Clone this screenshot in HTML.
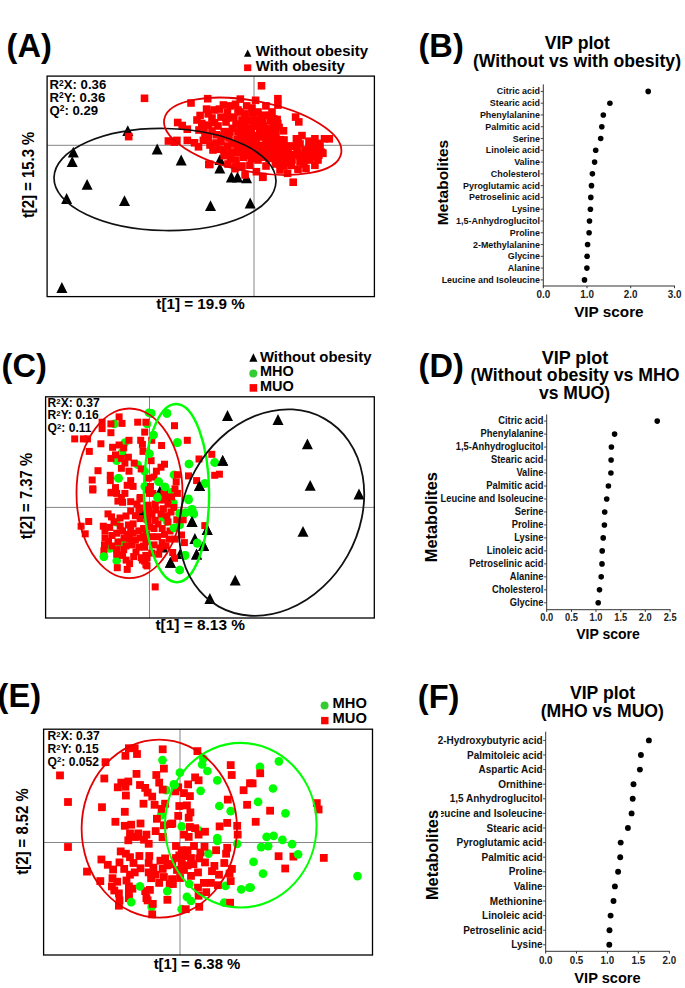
<!DOCTYPE html>
<html><head><meta charset="utf-8"><title>Figure</title>
<style>html,body{margin:0;padding:0;background:#fff}svg{display:block}text{font-family:'Liberation Sans',Arial,sans-serif;font-weight:bold}</style></head>
<body><svg width="685" height="988" viewBox="0 0 685 988">
<rect width="685" height="988" fill="#fff"/>
<text x="6.6" y="57" font-size="32.6" text-anchor="start" >(A)</text>
<text x="418.5" y="57" font-size="32.6" text-anchor="start" >(B)</text>
<text x="1.6" y="377" font-size="32.6" text-anchor="start" >(C)</text>
<text x="418.6" y="377" font-size="32.6" text-anchor="start" >(D)</text>
<text x="-2.4" y="706.5" font-size="32.6" text-anchor="start" >(E)</text>
<text x="417.8" y="708" font-size="32.6" text-anchor="start" >(F)</text>
<line x1="47.1" y1="145.3" x2="374.4" y2="145.3" stroke="#777" stroke-width="0.9"/>
<line x1="254" y1="76.1" x2="254" y2="296.6" stroke="#777" stroke-width="0.9"/>
<path d="M67.8 157.6L73.3 146.8L78.8 157.6z" fill="#000"/>
<path d="M66.7 167.1L72.2 156.3L77.7 167.1z" fill="#000"/>
<path d="M81.6 189.8L87.1 179.0L92.6 189.8z" fill="#000"/>
<path d="M61.1 203.9L66.6 193.1L72.1 203.9z" fill="#000"/>
<path d="M119.0 206.1L124.5 195.3L130.0 206.1z" fill="#000"/>
<path d="M122.3 136.0L127.8 125.2L133.3 136.0z" fill="#000"/>
<path d="M151.7 154.4L157.2 143.6L162.7 154.4z" fill="#000"/>
<path d="M175.7 165.4L181.2 154.6L186.7 165.4z" fill="#000"/>
<path d="M214.3 173.6L219.8 162.8L225.3 173.6z" fill="#000"/>
<path d="M214.5 164.9L220.0 154.1L225.5 164.9z" fill="#000"/>
<path d="M225.9 182.4L231.4 171.6L236.9 182.4z" fill="#000"/>
<path d="M232.0 182.4L237.5 171.6L243.0 182.4z" fill="#000"/>
<path d="M241.1 183.2L246.6 172.4L252.1 183.2z" fill="#000"/>
<path d="M232.3 170.4L237.8 159.6L243.3 170.4z" fill="#000"/>
<path d="M205.0 211.0L210.5 200.2L216.0 211.0z" fill="#000"/>
<path d="M244.7 208.4L250.2 197.6L255.7 208.4z" fill="#000"/>
<path d="M56.4 292.9L61.9 282.1L67.4 292.9z" fill="#000"/>
<rect x="140.7" y="94.5" width="7.6" height="7.6" fill="#f00"/>
<rect x="124.9" y="132.8" width="7.6" height="7.6" fill="#f00"/>
<rect x="164.6" y="137.2" width="7.6" height="7.6" fill="#f00"/>
<rect x="170.6" y="138.3" width="7.6" height="7.6" fill="#f00"/>
<rect x="173.9" y="118.7" width="7.6" height="7.6" fill="#f00"/>
<rect x="178.4" y="121.7" width="7.6" height="7.6" fill="#f00"/>
<rect x="183.5" y="125.4" width="7.6" height="7.6" fill="#f00"/>
<rect x="257.7" y="82.0" width="7.6" height="7.6" fill="#f00"/>
<rect x="203.9" y="94.9" width="7.6" height="7.6" fill="#f00"/>
<rect x="187.2" y="99.2" width="7.6" height="7.6" fill="#f00"/>
<rect x="236.5" y="95.3" width="7.6" height="7.6" fill="#f00"/>
<rect x="251.8" y="96.5" width="7.6" height="7.6" fill="#f00"/>
<rect x="173.1" y="136.6" width="7.6" height="7.6" fill="#f00"/>
<rect x="183.5" y="136.6" width="7.6" height="7.6" fill="#f00"/>
<rect x="190.7" y="139.0" width="7.6" height="7.6" fill="#f00"/>
<rect x="194.7" y="143.0" width="7.6" height="7.6" fill="#f00"/>
<rect x="199.6" y="136.6" width="7.6" height="7.6" fill="#f00"/>
<rect x="206.0" y="160.7" width="7.6" height="7.6" fill="#f00"/>
<rect x="196.3" y="111.7" width="7.6" height="7.6" fill="#f00"/>
<rect x="202.8" y="105.3" width="7.6" height="7.6" fill="#f00"/>
<rect x="204.4" y="110.1" width="7.6" height="7.6" fill="#f00"/>
<rect x="198.0" y="119.7" width="7.6" height="7.6" fill="#f00"/>
<rect x="204.4" y="121.3" width="7.6" height="7.6" fill="#f00"/>
<rect x="210.8" y="118.9" width="7.6" height="7.6" fill="#f00"/>
<rect x="215.6" y="105.3" width="7.6" height="7.6" fill="#f00"/>
<rect x="219.6" y="101.2" width="7.6" height="7.6" fill="#f00"/>
<rect x="223.6" y="108.5" width="7.6" height="7.6" fill="#f00"/>
<rect x="217.2" y="113.3" width="7.6" height="7.6" fill="#f00"/>
<rect x="226.9" y="102.1" width="7.6" height="7.6" fill="#f00"/>
<rect x="231.7" y="100.5" width="7.6" height="7.6" fill="#f00"/>
<rect x="230.1" y="113.3" width="7.6" height="7.6" fill="#f00"/>
<rect x="228.5" y="124.6" width="7.6" height="7.6" fill="#f00"/>
<rect x="220.4" y="127.8" width="7.6" height="7.6" fill="#f00"/>
<rect x="212.4" y="131.0" width="7.6" height="7.6" fill="#f00"/>
<rect x="204.4" y="134.2" width="7.6" height="7.6" fill="#f00"/>
<rect x="217.2" y="137.4" width="7.6" height="7.6" fill="#f00"/>
<rect x="223.6" y="142.2" width="7.6" height="7.6" fill="#f00"/>
<rect x="215.6" y="145.4" width="7.6" height="7.6" fill="#f00"/>
<rect x="220.4" y="151.9" width="7.6" height="7.6" fill="#f00"/>
<rect x="226.9" y="155.1" width="7.6" height="7.6" fill="#f00"/>
<rect x="231.7" y="163.1" width="7.6" height="7.6" fill="#f00"/>
<rect x="233.3" y="148.6" width="7.6" height="7.6" fill="#f00"/>
<rect x="233.3" y="135.8" width="7.6" height="7.6" fill="#f00"/>
<rect x="236.5" y="123.0" width="7.6" height="7.6" fill="#f00"/>
<rect x="241.3" y="110.1" width="7.6" height="7.6" fill="#f00"/>
<rect x="242.9" y="102.1" width="7.6" height="7.6" fill="#f00"/>
<rect x="246.1" y="116.5" width="7.6" height="7.6" fill="#f00"/>
<rect x="242.9" y="129.4" width="7.6" height="7.6" fill="#f00"/>
<rect x="241.3" y="142.2" width="7.6" height="7.6" fill="#f00"/>
<rect x="239.7" y="153.5" width="7.6" height="7.6" fill="#f00"/>
<rect x="241.3" y="171.1" width="7.6" height="7.6" fill="#f00"/>
<rect x="246.1" y="161.5" width="7.6" height="7.6" fill="#f00"/>
<rect x="252.6" y="167.9" width="7.6" height="7.6" fill="#f00"/>
<rect x="259.0" y="172.7" width="7.6" height="7.6" fill="#f00"/>
<rect x="274.1" y="94.9" width="7.6" height="7.6" fill="#f00"/>
<rect x="274.1" y="101.3" width="7.6" height="7.6" fill="#f00"/>
<rect x="262.1" y="102.1" width="7.6" height="7.6" fill="#f00"/>
<rect x="291.8" y="113.3" width="7.6" height="7.6" fill="#f00"/>
<rect x="295.0" y="118.1" width="7.6" height="7.6" fill="#f00"/>
<rect x="273.3" y="115.7" width="7.6" height="7.6" fill="#f00"/>
<rect x="266.9" y="116.5" width="7.6" height="7.6" fill="#f00"/>
<rect x="279.7" y="127.0" width="7.6" height="7.6" fill="#f00"/>
<rect x="298.2" y="131.8" width="7.6" height="7.6" fill="#f00"/>
<rect x="292.6" y="135.0" width="7.6" height="7.6" fill="#f00"/>
<rect x="311.1" y="135.0" width="7.6" height="7.6" fill="#f00"/>
<rect x="320.7" y="135.0" width="7.6" height="7.6" fill="#f00"/>
<rect x="325.5" y="135.0" width="7.6" height="7.6" fill="#f00"/>
<rect x="311.9" y="143.8" width="7.6" height="7.6" fill="#f00"/>
<rect x="319.1" y="149.5" width="7.6" height="7.6" fill="#f00"/>
<rect x="313.5" y="153.5" width="7.6" height="7.6" fill="#f00"/>
<rect x="311.1" y="161.5" width="7.6" height="7.6" fill="#f00"/>
<rect x="302.2" y="164.7" width="7.6" height="7.6" fill="#f00"/>
<rect x="294.2" y="165.5" width="7.6" height="7.6" fill="#f00"/>
<rect x="289.4" y="178.4" width="7.6" height="7.6" fill="#f00"/>
<rect x="283.8" y="169.5" width="7.6" height="7.6" fill="#f00"/>
<rect x="258.9" y="173.5" width="7.6" height="7.6" fill="#f00"/>
<rect x="305.4" y="145.4" width="7.6" height="7.6" fill="#f00"/>
<rect x="302.2" y="153.5" width="7.6" height="7.6" fill="#f00"/>
<rect x="305.4" y="137.4" width="7.6" height="7.6" fill="#f00"/>
<rect x="205.0" y="160.5" width="7.6" height="7.6" fill="#f00"/>
<rect x="231.2" y="164.9" width="7.6" height="7.6" fill="#f00"/>
<rect x="208.2" y="127.2" width="7.6" height="7.6" fill="#f00"/>
<rect x="212.2" y="139.2" width="7.6" height="7.6" fill="#f00"/>
<rect x="209.2" y="146.2" width="7.6" height="7.6" fill="#f00"/>
<rect x="225.2" y="134.2" width="7.6" height="7.6" fill="#f00"/>
<rect x="227.2" y="148.2" width="7.6" height="7.6" fill="#f00"/>
<rect x="236.2" y="108.2" width="7.6" height="7.6" fill="#f00"/>
<rect x="248.2" y="104.2" width="7.6" height="7.6" fill="#f00"/>
<rect x="254.2" y="108.2" width="7.6" height="7.6" fill="#f00"/>
<rect x="258.2" y="114.2" width="7.6" height="7.6" fill="#f00"/>
<rect x="250.2" y="122.2" width="7.6" height="7.6" fill="#f00"/>
<rect x="262.2" y="124.2" width="7.6" height="7.6" fill="#f00"/>
<rect x="268.2" y="108.2" width="7.6" height="7.6" fill="#f00"/>
<rect x="251.2" y="136.2" width="7.6" height="7.6" fill="#f00"/>
<rect x="258.2" y="144.2" width="7.6" height="7.6" fill="#f00"/>
<rect x="248.2" y="150.2" width="7.6" height="7.6" fill="#f00"/>
<rect x="254.2" y="156.2" width="7.6" height="7.6" fill="#f00"/>
<rect x="262.2" y="162.2" width="7.6" height="7.6" fill="#f00"/>
<rect x="280.2" y="162.2" width="7.6" height="7.6" fill="#f00"/>
<rect x="288.2" y="156.2" width="7.6" height="7.6" fill="#f00"/>
<rect x="294.2" y="148.2" width="7.6" height="7.6" fill="#f00"/>
<rect x="286.2" y="142.2" width="7.6" height="7.6" fill="#f00"/>
<rect x="280.2" y="136.2" width="7.6" height="7.6" fill="#f00"/>
<rect x="272.2" y="130.2" width="7.6" height="7.6" fill="#f00"/>
<rect x="266.2" y="136.2" width="7.6" height="7.6" fill="#f00"/>
<rect x="274.2" y="146.2" width="7.6" height="7.6" fill="#f00"/>
<rect x="282.2" y="150.2" width="7.6" height="7.6" fill="#f00"/>
<rect x="268.2" y="154.2" width="7.6" height="7.6" fill="#f00"/>
<rect x="260.2" y="150.2" width="7.6" height="7.6" fill="#f00"/>
<rect x="296.2" y="140.2" width="7.6" height="7.6" fill="#f00"/>
<rect x="302.2" y="146.2" width="7.6" height="7.6" fill="#f00"/>
<rect x="308.2" y="150.2" width="7.6" height="7.6" fill="#f00"/>
<rect x="296.2" y="158.2" width="7.6" height="7.6" fill="#f00"/>
<rect x="193.2" y="116.2" width="7.6" height="7.6" fill="#f00"/>
<rect x="200.2" y="126.2" width="7.6" height="7.6" fill="#f00"/>
<rect x="208.2" y="114.2" width="7.6" height="7.6" fill="#f00"/>
<rect x="214.2" y="122.2" width="7.6" height="7.6" fill="#f00"/>
<rect x="222.2" y="118.2" width="7.6" height="7.6" fill="#f00"/>
<rect x="210.2" y="106.2" width="7.6" height="7.6" fill="#f00"/>
<rect x="218.2" y="132.2" width="7.6" height="7.6" fill="#f00"/>
<rect x="226.2" y="128.2" width="7.6" height="7.6" fill="#f00"/>
<rect x="232.2" y="120.2" width="7.6" height="7.6" fill="#f00"/>
<rect x="224.2" y="114.2" width="7.6" height="7.6" fill="#f00"/>
<rect x="234.2" y="128.2" width="7.6" height="7.6" fill="#f00"/>
<rect x="228.2" y="140.2" width="7.6" height="7.6" fill="#f00"/>
<rect x="220.2" y="146.2" width="7.6" height="7.6" fill="#f00"/>
<rect x="234.2" y="142.2" width="7.6" height="7.6" fill="#f00"/>
<rect x="240.2" y="136.2" width="7.6" height="7.6" fill="#f00"/>
<rect x="201.2" y="132.2" width="7.6" height="7.6" fill="#f00"/>
<rect x="195.2" y="126.2" width="7.6" height="7.6" fill="#f00"/>
<rect x="206.2" y="141.2" width="7.6" height="7.6" fill="#f00"/>
<rect x="232.2" y="156.2" width="7.6" height="7.6" fill="#f00"/>
<rect x="224.2" y="160.2" width="7.6" height="7.6" fill="#f00"/>
<rect x="238.2" y="162.2" width="7.6" height="7.6" fill="#f00"/>
<rect x="246.2" y="146.2" width="7.6" height="7.6" fill="#f00"/>
<rect x="252.2" y="142.2" width="7.6" height="7.6" fill="#f00"/>
<rect x="314.2" y="156.2" width="7.6" height="7.6" fill="#f00"/>
<rect x="306.2" y="156.2" width="7.6" height="7.6" fill="#f00"/>
<rect x="300.2" y="160.2" width="7.6" height="7.6" fill="#f00"/>
<rect x="316.2" y="142.2" width="7.6" height="7.6" fill="#f00"/>
<rect x="276.2" y="166.2" width="7.6" height="7.6" fill="#f00"/>
<rect x="272.2" y="160.2" width="7.6" height="7.6" fill="#f00"/>
<rect x="264.2" y="142.2" width="7.6" height="7.6" fill="#f00"/>
<rect x="256.2" y="130.2" width="7.6" height="7.6" fill="#f00"/>
<rect x="244.2" y="124.2" width="7.6" height="7.6" fill="#f00"/>
<rect x="238.2" y="116.2" width="7.6" height="7.6" fill="#f00"/>
<rect x="234.2" y="106.2" width="7.6" height="7.6" fill="#f00"/>
<rect x="252.2" y="116.2" width="7.6" height="7.6" fill="#f00"/>
<rect x="259.7" y="144.3" width="7.6" height="7.6" fill="#f00"/>
<rect x="263.4" y="130.4" width="7.6" height="7.6" fill="#f00"/>
<rect x="236.9" y="127.2" width="7.6" height="7.6" fill="#f00"/>
<rect x="239.3" y="123.2" width="7.6" height="7.6" fill="#f00"/>
<rect x="281.0" y="146.2" width="7.6" height="7.6" fill="#f00"/>
<rect x="287.6" y="161.6" width="7.6" height="7.6" fill="#f00"/>
<rect x="250.1" y="120.5" width="7.6" height="7.6" fill="#f00"/>
<rect x="258.4" y="133.2" width="7.6" height="7.6" fill="#f00"/>
<rect x="257.3" y="118.0" width="7.6" height="7.6" fill="#f00"/>
<rect x="247.6" y="154.5" width="7.6" height="7.6" fill="#f00"/>
<rect x="240.0" y="135.9" width="7.6" height="7.6" fill="#f00"/>
<rect x="269.5" y="122.8" width="7.6" height="7.6" fill="#f00"/>
<rect x="258.1" y="112.7" width="7.6" height="7.6" fill="#f00"/>
<rect x="278.5" y="146.5" width="7.6" height="7.6" fill="#f00"/>
<rect x="260.7" y="153.4" width="7.6" height="7.6" fill="#f00"/>
<rect x="280.8" y="150.7" width="7.6" height="7.6" fill="#f00"/>
<rect x="271.6" y="157.7" width="7.6" height="7.6" fill="#f00"/>
<rect x="247.6" y="125.7" width="7.6" height="7.6" fill="#f00"/>
<rect x="235.1" y="147.3" width="7.6" height="7.6" fill="#f00"/>
<rect x="266.2" y="131.3" width="7.6" height="7.6" fill="#f00"/>
<rect x="239.5" y="142.6" width="7.6" height="7.6" fill="#f00"/>
<rect x="274.6" y="148.2" width="7.6" height="7.6" fill="#f00"/>
<rect x="263.4" y="140.9" width="7.6" height="7.6" fill="#f00"/>
<rect x="256.1" y="128.1" width="7.6" height="7.6" fill="#f00"/>
<rect x="267.4" y="153.0" width="7.6" height="7.6" fill="#f00"/>
<rect x="257.1" y="141.6" width="7.6" height="7.6" fill="#f00"/>
<rect x="252.7" y="145.5" width="7.6" height="7.6" fill="#f00"/>
<rect x="250.5" y="131.8" width="7.6" height="7.6" fill="#f00"/>
<rect x="262.6" y="134.7" width="7.6" height="7.6" fill="#f00"/>
<rect x="265.3" y="153.1" width="7.6" height="7.6" fill="#f00"/>
<rect x="256.1" y="145.6" width="7.6" height="7.6" fill="#f00"/>
<rect x="273.5" y="158.9" width="7.6" height="7.6" fill="#f00"/>
<rect x="264.6" y="139.6" width="7.6" height="7.6" fill="#f00"/>
<rect x="273.5" y="150.3" width="7.6" height="7.6" fill="#f00"/>
<rect x="277.0" y="149.8" width="7.6" height="7.6" fill="#f00"/>
<rect x="269.2" y="126.5" width="7.6" height="7.6" fill="#f00"/>
<rect x="284.3" y="147.1" width="7.6" height="7.6" fill="#f00"/>
<rect x="239.9" y="149.5" width="7.6" height="7.6" fill="#f00"/>
<rect x="274.7" y="140.3" width="7.6" height="7.6" fill="#f00"/>
<rect x="267.8" y="151.4" width="7.6" height="7.6" fill="#f00"/>
<rect x="265.2" y="154.6" width="7.6" height="7.6" fill="#f00"/>
<rect x="243.0" y="147.6" width="7.6" height="7.6" fill="#f00"/>
<rect x="263.8" y="135.5" width="7.6" height="7.6" fill="#f00"/>
<rect x="248.1" y="137.2" width="7.6" height="7.6" fill="#f00"/>
<rect x="287.3" y="158.1" width="7.6" height="7.6" fill="#f00"/>
<rect x="267.5" y="114.6" width="7.6" height="7.6" fill="#f00"/>
<rect x="246.7" y="151.7" width="7.6" height="7.6" fill="#f00"/>
<rect x="268.5" y="151.1" width="7.6" height="7.6" fill="#f00"/>
<rect x="239.8" y="118.0" width="7.6" height="7.6" fill="#f00"/>
<rect x="261.3" y="127.3" width="7.6" height="7.6" fill="#f00"/>
<rect x="234.1" y="142.6" width="7.6" height="7.6" fill="#f00"/>
<rect x="237.5" y="129.5" width="7.6" height="7.6" fill="#f00"/>
<rect x="279.0" y="153.4" width="7.6" height="7.6" fill="#f00"/>
<rect x="270.2" y="133.8" width="7.6" height="7.6" fill="#f00"/>
<rect x="241.8" y="117.1" width="7.6" height="7.6" fill="#f00"/>
<rect x="266.6" y="145.8" width="7.6" height="7.6" fill="#f00"/>
<rect x="281.0" y="142.5" width="7.6" height="7.6" fill="#f00"/>
<rect x="259.1" y="118.0" width="7.6" height="7.6" fill="#f00"/>
<rect x="237.6" y="135.7" width="7.6" height="7.6" fill="#f00"/>
<rect x="266.9" y="145.8" width="7.6" height="7.6" fill="#f00"/>
<rect x="244.2" y="130.2" width="7.6" height="7.6" fill="#f00"/>
<rect x="256.2" y="148.5" width="7.6" height="7.6" fill="#f00"/>
<rect x="275.3" y="123.7" width="7.6" height="7.6" fill="#f00"/>
<rect x="247.6" y="133.0" width="7.6" height="7.6" fill="#f00"/>
<rect x="266.2" y="139.3" width="7.6" height="7.6" fill="#f00"/>
<rect x="270.2" y="140.4" width="7.6" height="7.6" fill="#f00"/>
<rect x="269.9" y="115.1" width="7.6" height="7.6" fill="#f00"/>
<rect x="283.1" y="158.2" width="7.6" height="7.6" fill="#f00"/>
<rect x="233.9" y="143.4" width="7.6" height="7.6" fill="#f00"/>
<rect x="261.0" y="111.4" width="7.6" height="7.6" fill="#f00"/>
<rect x="240.8" y="140.9" width="7.6" height="7.6" fill="#f00"/>
<rect x="268.1" y="147.4" width="7.6" height="7.6" fill="#f00"/>
<rect x="263.0" y="148.7" width="7.6" height="7.6" fill="#f00"/>
<rect x="256.4" y="153.4" width="7.6" height="7.6" fill="#f00"/>
<rect x="255.3" y="149.8" width="7.6" height="7.6" fill="#f00"/>
<rect x="280.5" y="159.1" width="7.6" height="7.6" fill="#f00"/>
<rect x="278.3" y="139.8" width="7.6" height="7.6" fill="#f00"/>
<rect x="259.6" y="147.3" width="7.6" height="7.6" fill="#f00"/>
<rect x="243.6" y="142.2" width="7.6" height="7.6" fill="#f00"/>
<rect x="266.7" y="111.7" width="7.6" height="7.6" fill="#f00"/>
<rect x="251.9" y="109.1" width="7.6" height="7.6" fill="#f00"/>
<rect x="271.2" y="141.8" width="7.6" height="7.6" fill="#f00"/>
<rect x="267.8" y="136.9" width="7.6" height="7.6" fill="#f00"/>
<rect x="264.4" y="130.7" width="7.6" height="7.6" fill="#f00"/>
<rect x="270.9" y="124.0" width="7.6" height="7.6" fill="#f00"/>
<rect x="269.7" y="125.4" width="7.6" height="7.6" fill="#f00"/>
<rect x="262.5" y="130.3" width="7.6" height="7.6" fill="#f00"/>
<rect x="285.9" y="151.0" width="7.6" height="7.6" fill="#f00"/>
<rect x="272.2" y="122.7" width="7.6" height="7.6" fill="#f00"/>
<rect x="265.7" y="135.3" width="7.6" height="7.6" fill="#f00"/>
<rect x="248.3" y="109.3" width="7.6" height="7.6" fill="#f00"/>
<rect x="259.3" y="122.2" width="7.6" height="7.6" fill="#f00"/>
<rect x="252.2" y="135.7" width="7.6" height="7.6" fill="#f00"/>
<rect x="242.1" y="136.3" width="7.6" height="7.6" fill="#f00"/>
<rect x="278.7" y="161.4" width="7.6" height="7.6" fill="#f00"/>
<rect x="262.4" y="136.1" width="7.6" height="7.6" fill="#f00"/>
<rect x="240.0" y="136.1" width="7.6" height="7.6" fill="#f00"/>
<rect x="242.7" y="144.7" width="7.6" height="7.6" fill="#f00"/>
<rect x="243.0" y="146.4" width="7.6" height="7.6" fill="#f00"/>
<rect x="268.0" y="142.3" width="7.6" height="7.6" fill="#f00"/>
<rect x="268.4" y="150.7" width="7.6" height="7.6" fill="#f00"/>
<rect x="246.9" y="132.1" width="7.6" height="7.6" fill="#f00"/>
<rect x="269.6" y="131.6" width="7.6" height="7.6" fill="#f00"/>
<rect x="269.8" y="118.1" width="7.6" height="7.6" fill="#f00"/>
<rect x="267.2" y="142.1" width="7.6" height="7.6" fill="#f00"/>
<rect x="236.7" y="133.7" width="7.6" height="7.6" fill="#f00"/>
<rect x="255.6" y="122.1" width="7.6" height="7.6" fill="#f00"/>
<rect x="237.1" y="124.8" width="7.6" height="7.6" fill="#f00"/>
<rect x="280.1" y="148.2" width="7.6" height="7.6" fill="#f00"/>
<rect x="244.6" y="132.7" width="7.6" height="7.6" fill="#f00"/>
<rect x="250.9" y="136.6" width="7.6" height="7.6" fill="#f00"/>
<rect x="275.2" y="145.4" width="7.6" height="7.6" fill="#f00"/>
<rect x="260.8" y="141.9" width="7.6" height="7.6" fill="#f00"/>
<rect x="270.3" y="150.8" width="7.6" height="7.6" fill="#f00"/>
<rect x="274.0" y="119.8" width="7.6" height="7.6" fill="#f00"/>
<rect x="244.6" y="143.6" width="7.6" height="7.6" fill="#f00"/>
<rect x="264.7" y="149.4" width="7.6" height="7.6" fill="#f00"/>
<rect x="236.1" y="142.1" width="7.6" height="7.6" fill="#f00"/>
<rect x="276.7" y="135.9" width="7.6" height="7.6" fill="#f00"/>
<rect x="270.2" y="137.1" width="7.6" height="7.6" fill="#f00"/>
<rect x="253.7" y="122.3" width="7.6" height="7.6" fill="#f00"/>
<rect x="280.8" y="143.6" width="7.6" height="7.6" fill="#f00"/>
<rect x="249.2" y="141.4" width="7.6" height="7.6" fill="#f00"/>
<rect x="266.7" y="135.1" width="7.6" height="7.6" fill="#f00"/>
<rect x="254.3" y="152.8" width="7.6" height="7.6" fill="#f00"/>
<rect x="271.1" y="150.6" width="7.6" height="7.6" fill="#f00"/>
<rect x="267.4" y="140.2" width="7.6" height="7.6" fill="#f00"/>
<rect x="244.5" y="138.9" width="7.6" height="7.6" fill="#f00"/>
<rect x="271.4" y="142.1" width="7.6" height="7.6" fill="#f00"/>
<rect x="247.6" y="148.6" width="7.6" height="7.6" fill="#f00"/>
<rect x="292.3" y="150.8" width="7.6" height="7.6" fill="#f00"/>
<rect x="296.8" y="152.3" width="7.6" height="7.6" fill="#f00"/>
<rect x="305.5" y="138.8" width="7.6" height="7.6" fill="#f00"/>
<rect x="284.6" y="158.1" width="7.6" height="7.6" fill="#f00"/>
<rect x="293.0" y="143.1" width="7.6" height="7.6" fill="#f00"/>
<rect x="318.1" y="149.0" width="7.6" height="7.6" fill="#f00"/>
<rect x="312.6" y="149.1" width="7.6" height="7.6" fill="#f00"/>
<rect x="305.9" y="141.0" width="7.6" height="7.6" fill="#f00"/>
<rect x="302.0" y="155.7" width="7.6" height="7.6" fill="#f00"/>
<rect x="307.0" y="138.8" width="7.6" height="7.6" fill="#f00"/>
<rect x="310.0" y="152.0" width="7.6" height="7.6" fill="#f00"/>
<rect x="294.4" y="138.0" width="7.6" height="7.6" fill="#f00"/>
<rect x="313.6" y="149.0" width="7.6" height="7.6" fill="#f00"/>
<rect x="297.6" y="157.2" width="7.6" height="7.6" fill="#f00"/>
<rect x="314.1" y="139.6" width="7.6" height="7.6" fill="#f00"/>
<rect x="288.8" y="142.6" width="7.6" height="7.6" fill="#f00"/>
<rect x="317.0" y="148.1" width="7.6" height="7.6" fill="#f00"/>
<rect x="305.5" y="144.7" width="7.6" height="7.6" fill="#f00"/>
<rect x="301.4" y="146.8" width="7.6" height="7.6" fill="#f00"/>
<rect x="296.1" y="151.8" width="7.6" height="7.6" fill="#f00"/>
<rect x="307.0" y="141.3" width="7.6" height="7.6" fill="#f00"/>
<rect x="315.0" y="151.4" width="7.6" height="7.6" fill="#f00"/>
<rect x="308.5" y="142.5" width="7.6" height="7.6" fill="#f00"/>
<rect x="312.5" y="151.5" width="7.6" height="7.6" fill="#f00"/>
<rect x="293.9" y="138.8" width="7.6" height="7.6" fill="#f00"/>
<rect x="287.2" y="157.2" width="7.6" height="7.6" fill="#f00"/>
<ellipse cx="165" cy="179.5" rx="111" ry="51" transform="rotate(1 165 179.5)" fill="none" stroke="#111" stroke-width="1.7"/>
<ellipse cx="252.7" cy="136.3" rx="90.1" ry="35.3" transform="rotate(11.0 252.7 136.3)" fill="none" stroke="#e40000" stroke-width="1.8"/>
<rect x="47.1" y="76.1" width="327.29999999999995" height="220.50000000000003" fill="none" stroke="#000" stroke-width="1.3"/>
<text x="49.5" y="89.1" font-size="13.2" text-anchor="start" >R<tspan font-size="8.45" dy="-3.56">2</tspan><tspan dy="3.56">X: 0.36</tspan></text>
<text x="49.5" y="101.89999999999999" font-size="13.2" text-anchor="start" >R<tspan font-size="8.45" dy="-3.56">2</tspan><tspan dy="3.56">Y: 0.36</tspan></text>
<text x="49.5" y="114.69999999999999" font-size="13.2" text-anchor="start" >Q<tspan font-size="8.45" dy="-3.56">2</tspan><tspan dy="3.56">: 0.29</tspan></text>
<text transform="translate(34.4,174.9) rotate(-90) scale(0.937,1)" font-size="15.9" text-anchor="middle">t[2] = 15.3 %</text>
<text transform="translate(200.5,308.6) scale(1.095,1)" font-size="13.9" text-anchor="middle">t[1] = 19.9 %</text>
<path d="M244.0 56.8L247.7 49.6L251.4 56.8z" fill="#000"/>
<text x="255.7" y="56.4" font-size="15" text-anchor="start" >Without obesity</text>
<rect x="244.1" y="64.4" width="7.2" height="6.7" fill="#f00"/>
<text x="255.7" y="70.7" font-size="15" text-anchor="start" >With obesity</text>
<line x1="543.3" y1="84.4" x2="543.3" y2="286" stroke="#333" stroke-width="1"/>
<line x1="542.8" y1="286" x2="675.0" y2="286" stroke="#333" stroke-width="1"/>
<line x1="543.3" y1="286" x2="543.3" y2="288.2" stroke="#333" stroke-width="1"/>
<text transform="translate(543.3,298.2) scale(0.96,1)" font-size="10.3" text-anchor="middle" fill="#222">0.0</text>
<line x1="587.0" y1="286" x2="587.0" y2="288.2" stroke="#333" stroke-width="1"/>
<text transform="translate(587.0,298.2) scale(0.96,1)" font-size="10.3" text-anchor="middle" fill="#222">1.0</text>
<line x1="630.7" y1="286" x2="630.7" y2="288.2" stroke="#333" stroke-width="1"/>
<text transform="translate(630.7,298.2) scale(0.96,1)" font-size="10.3" text-anchor="middle" fill="#222">2.0</text>
<line x1="674.5" y1="286" x2="674.5" y2="288.2" stroke="#333" stroke-width="1"/>
<text transform="translate(674.5,298.2) scale(0.96,1)" font-size="10.3" text-anchor="middle" fill="#222">3.0</text>
<text transform="translate(540,94.4) scale(1.0,1)" font-size="8.95" text-anchor="end" fill="#111">Citric acid</text>
<text transform="translate(540,106.18) scale(1.0,1)" font-size="8.95" text-anchor="end" fill="#111">Stearic acid</text>
<text transform="translate(540,117.96) scale(1.0,1)" font-size="8.95" text-anchor="end" fill="#111">Phenylalanine</text>
<text transform="translate(540,129.74) scale(1.0,1)" font-size="8.95" text-anchor="end" fill="#111">Palmitic acid</text>
<text transform="translate(540,141.52) scale(1.0,1)" font-size="8.95" text-anchor="end" fill="#111">Serine</text>
<text transform="translate(540,153.3) scale(1.0,1)" font-size="8.95" text-anchor="end" fill="#111">Linoleic acid</text>
<text transform="translate(540,165.08) scale(1.0,1)" font-size="8.95" text-anchor="end" fill="#111">Valine</text>
<text transform="translate(540,176.86) scale(1.0,1)" font-size="8.95" text-anchor="end" fill="#111">Cholesterol</text>
<text transform="translate(540,188.64) scale(1.0,1)" font-size="8.95" text-anchor="end" fill="#111">Pyroglutamic acid</text>
<text transform="translate(540,200.42) scale(1.0,1)" font-size="8.95" text-anchor="end" fill="#111">Petroselinic acid</text>
<text transform="translate(540,212.2) scale(1.0,1)" font-size="8.95" text-anchor="end" fill="#111">Lysine</text>
<text transform="translate(540,223.98) scale(1.0,1)" font-size="8.95" text-anchor="end" fill="#111">1,5-Anhydroglucitol</text>
<text transform="translate(540,235.76) scale(1.0,1)" font-size="8.95" text-anchor="end" fill="#111">Proline</text>
<text transform="translate(540,247.54) scale(1.0,1)" font-size="8.95" text-anchor="end" fill="#111">2-Methylalanine</text>
<text transform="translate(540,259.32) scale(1.0,1)" font-size="8.95" text-anchor="end" fill="#111">Glycine</text>
<text transform="translate(540,271.1) scale(1.0,1)" font-size="8.95" text-anchor="end" fill="#111">Alanine</text>
<text transform="translate(540,282.88) scale(1.0,1)" font-size="8.95" text-anchor="end" fill="#111">Leucine and Isoleucine</text>
<line x1="540.6999999999999" y1="91.40" x2="543.3" y2="91.40" stroke="#333" stroke-width="0.9"/>
<line x1="540.6999999999999" y1="103.18" x2="543.3" y2="103.18" stroke="#333" stroke-width="0.9"/>
<line x1="540.6999999999999" y1="114.96" x2="543.3" y2="114.96" stroke="#333" stroke-width="0.9"/>
<line x1="540.6999999999999" y1="126.74" x2="543.3" y2="126.74" stroke="#333" stroke-width="0.9"/>
<line x1="540.6999999999999" y1="138.52" x2="543.3" y2="138.52" stroke="#333" stroke-width="0.9"/>
<line x1="540.6999999999999" y1="150.30" x2="543.3" y2="150.30" stroke="#333" stroke-width="0.9"/>
<line x1="540.6999999999999" y1="162.08" x2="543.3" y2="162.08" stroke="#333" stroke-width="0.9"/>
<line x1="540.6999999999999" y1="173.86" x2="543.3" y2="173.86" stroke="#333" stroke-width="0.9"/>
<line x1="540.6999999999999" y1="185.64" x2="543.3" y2="185.64" stroke="#333" stroke-width="0.9"/>
<line x1="540.6999999999999" y1="197.42" x2="543.3" y2="197.42" stroke="#333" stroke-width="0.9"/>
<line x1="540.6999999999999" y1="209.20" x2="543.3" y2="209.20" stroke="#333" stroke-width="0.9"/>
<line x1="540.6999999999999" y1="220.98" x2="543.3" y2="220.98" stroke="#333" stroke-width="0.9"/>
<line x1="540.6999999999999" y1="232.76" x2="543.3" y2="232.76" stroke="#333" stroke-width="0.9"/>
<line x1="540.6999999999999" y1="244.54" x2="543.3" y2="244.54" stroke="#333" stroke-width="0.9"/>
<line x1="540.6999999999999" y1="256.32" x2="543.3" y2="256.32" stroke="#333" stroke-width="0.9"/>
<line x1="540.6999999999999" y1="268.10" x2="543.3" y2="268.10" stroke="#333" stroke-width="0.9"/>
<line x1="540.6999999999999" y1="279.88" x2="543.3" y2="279.88" stroke="#333" stroke-width="0.9"/>
<circle cx="648.2" cy="91.40" r="2.8" fill="#000"/>
<circle cx="609.9" cy="103.18" r="2.8" fill="#000"/>
<circle cx="603.3" cy="114.96" r="2.8" fill="#000"/>
<circle cx="601.8" cy="126.74" r="2.8" fill="#000"/>
<circle cx="600.7" cy="138.52" r="2.8" fill="#000"/>
<circle cx="595.7" cy="150.30" r="2.8" fill="#000"/>
<circle cx="594.6" cy="162.08" r="2.8" fill="#000"/>
<circle cx="592.4" cy="173.86" r="2.8" fill="#000"/>
<circle cx="591.5" cy="185.64" r="2.8" fill="#000"/>
<circle cx="590.8" cy="197.42" r="2.8" fill="#000"/>
<circle cx="590.4" cy="209.20" r="2.8" fill="#000"/>
<circle cx="589.5" cy="220.98" r="2.8" fill="#000"/>
<circle cx="589.1" cy="232.76" r="2.8" fill="#000"/>
<circle cx="587.6" cy="244.54" r="2.8" fill="#000"/>
<circle cx="587.1" cy="256.32" r="2.8" fill="#000"/>
<circle cx="586.9" cy="268.10" r="2.8" fill="#000"/>
<circle cx="584.5" cy="279.88" r="2.8" fill="#000"/>
<text x="608.9" y="317" font-size="15.3" text-anchor="middle" >VIP score</text>
<text transform="translate(448.3,182.5) rotate(-90)" font-size="15.5" text-anchor="middle">Metabolites</text>
<text x="577.3" y="49.4" font-size="17.6" text-anchor="middle" >VIP plot</text>
<text x="577" y="67" font-size="17.6" text-anchor="middle" >(Without vs with obesity)</text>
<line x1="45.6" y1="507.4" x2="374.3" y2="507.4" stroke="#777" stroke-width="0.9"/>
<line x1="149.5" y1="396.8" x2="149.5" y2="618.0" stroke="#777" stroke-width="0.9"/>
<path d="M222.0 420.9L227.5 410.1L233.0 420.9z" fill="#000"/>
<path d="M272.5 424.9L278.0 414.1L283.5 424.9z" fill="#000"/>
<path d="M301.9 449.2L307.4 438.4L312.9 449.2z" fill="#000"/>
<path d="M217.2 465.8L222.7 455.0L228.2 465.8z" fill="#000"/>
<path d="M304.7 490.7L310.2 479.9L315.7 490.7z" fill="#000"/>
<path d="M353.5 499.4L359.0 488.6L364.5 499.4z" fill="#000"/>
<path d="M194.0 491.0L199.5 480.2L205.0 491.0z" fill="#000"/>
<path d="M297.5 536.7L303.0 525.9L308.5 536.7z" fill="#000"/>
<path d="M186.5 526.9L192.0 516.1L197.5 526.9z" fill="#000"/>
<path d="M201.7 535.1L207.2 524.3L212.7 535.1z" fill="#000"/>
<path d="M189.4 543.9L194.9 533.1L200.4 543.9z" fill="#000"/>
<path d="M198.1 550.9L203.6 540.1L209.1 550.9z" fill="#000"/>
<path d="M191.1 559.6L196.6 548.8L202.1 559.6z" fill="#000"/>
<path d="M164.9 567.8L170.4 557.0L175.9 567.8z" fill="#000"/>
<path d="M157.3 552.6L162.8 541.8L168.3 552.6z" fill="#000"/>
<path d="M174.8 559.0L180.3 548.2L185.8 559.0z" fill="#000"/>
<path d="M154.4 496.6L159.9 485.8L165.4 496.6z" fill="#000"/>
<path d="M136.8 518.2L142.3 507.4L147.8 518.2z" fill="#000"/>
<path d="M163.1 503.0L168.6 492.2L174.1 503.0z" fill="#000"/>
<path d="M229.7 585.6L235.2 574.8L240.7 585.6z" fill="#000"/>
<path d="M204.4 603.9L209.9 593.1L215.4 603.9z" fill="#000"/>
<circle cx="114.4" cy="423.9" r="4.3" fill="#0f0"/>
<circle cx="124.9" cy="442.6" r="4.3" fill="#0f0"/>
<circle cx="122.0" cy="452.6" r="4.3" fill="#0f0"/>
<circle cx="116.7" cy="460.7" r="4.3" fill="#0f0"/>
<circle cx="137.7" cy="464.8" r="4.3" fill="#0f0"/>
<circle cx="118.5" cy="478.2" r="4.3" fill="#0f0"/>
<circle cx="148.8" cy="412.8" r="4.3" fill="#0f0"/>
<circle cx="116.1" cy="522.1" r="4.3" fill="#0f0"/>
<circle cx="119.0" cy="542.6" r="4.3" fill="#0f0"/>
<circle cx="123.1" cy="543.1" r="4.3" fill="#0f0"/>
<circle cx="109.7" cy="548.4" r="4.3" fill="#0f0"/>
<circle cx="103.9" cy="556.6" r="4.3" fill="#0f0"/>
<circle cx="116.7" cy="560.7" r="4.3" fill="#0f0"/>
<circle cx="151.1" cy="413.4" r="4.3" fill="#0f0"/>
<circle cx="166.9" cy="413.4" r="4.3" fill="#0f0"/>
<circle cx="147.0" cy="423.9" r="4.3" fill="#0f0"/>
<circle cx="153.4" cy="435.0" r="4.3" fill="#0f0"/>
<circle cx="177.4" cy="442.6" r="4.3" fill="#0f0"/>
<circle cx="149.3" cy="453.7" r="4.3" fill="#0f0"/>
<circle cx="189.0" cy="464.0" r="4.3" fill="#0f0"/>
<circle cx="214.7" cy="462.5" r="4.3" fill="#0f0"/>
<circle cx="173.9" cy="474.7" r="4.3" fill="#0f0"/>
<circle cx="204.8" cy="483.5" r="4.3" fill="#0f0"/>
<circle cx="158.7" cy="481.8" r="4.3" fill="#0f0"/>
<circle cx="165.1" cy="487.0" r="4.3" fill="#0f0"/>
<circle cx="144.7" cy="471.2" r="4.3" fill="#0f0"/>
<circle cx="144.7" cy="486.4" r="4.3" fill="#0f0"/>
<circle cx="157.5" cy="496.9" r="4.3" fill="#0f0"/>
<circle cx="188.5" cy="498.7" r="4.3" fill="#0f0"/>
<circle cx="171.5" cy="492.3" r="4.3" fill="#0f0"/>
<circle cx="192.0" cy="509.3" r="4.3" fill="#0f0"/>
<circle cx="185.5" cy="512.8" r="4.3" fill="#0f0"/>
<circle cx="193.7" cy="513.9" r="4.3" fill="#0f0"/>
<circle cx="179.7" cy="513.4" r="4.3" fill="#0f0"/>
<circle cx="162.2" cy="516.9" r="4.3" fill="#0f0"/>
<circle cx="166.9" cy="521.5" r="4.3" fill="#0f0"/>
<circle cx="173.9" cy="528.0" r="4.3" fill="#0f0"/>
<circle cx="179.7" cy="525.0" r="4.3" fill="#0f0"/>
<circle cx="197.2" cy="543.1" r="4.3" fill="#0f0"/>
<circle cx="185.0" cy="555.4" r="4.3" fill="#0f0"/>
<circle cx="179.7" cy="570.0" r="4.3" fill="#0f0"/>
<circle cx="173.3" cy="502.8" r="4.3" fill="#0f0"/>
<rect x="71.2" y="435.4" width="7.0" height="7.0" fill="#f00"/>
<rect x="79.9" y="435.4" width="7.0" height="7.0" fill="#f00"/>
<rect x="84.0" y="435.4" width="7.0" height="7.0" fill="#f00"/>
<rect x="85.8" y="447.9" width="7.0" height="7.0" fill="#f00"/>
<rect x="98.6" y="418.7" width="7.0" height="7.0" fill="#f00"/>
<rect x="98.6" y="425.1" width="7.0" height="7.0" fill="#f00"/>
<rect x="97.4" y="440.3" width="7.0" height="7.0" fill="#f00"/>
<rect x="107.4" y="420.4" width="7.0" height="7.0" fill="#f00"/>
<rect x="107.4" y="429.2" width="7.0" height="7.0" fill="#f00"/>
<rect x="115.6" y="413.4" width="7.0" height="7.0" fill="#f00"/>
<rect x="118.5" y="419.9" width="7.0" height="7.0" fill="#f00"/>
<rect x="134.2" y="418.7" width="7.0" height="7.0" fill="#f00"/>
<rect x="142.4" y="418.7" width="7.0" height="7.0" fill="#f00"/>
<rect x="141.2" y="428.6" width="7.0" height="7.0" fill="#f00"/>
<rect x="125.5" y="436.8" width="7.0" height="7.0" fill="#f00"/>
<rect x="137.2" y="436.8" width="7.0" height="7.0" fill="#f00"/>
<rect x="138.9" y="440.9" width="7.0" height="7.0" fill="#f00"/>
<rect x="139.5" y="447.9" width="7.0" height="7.0" fill="#f00"/>
<rect x="109.1" y="443.8" width="7.0" height="7.0" fill="#f00"/>
<rect x="115.6" y="441.5" width="7.0" height="7.0" fill="#f00"/>
<rect x="120.2" y="444.4" width="7.0" height="7.0" fill="#f00"/>
<rect x="112.0" y="451.4" width="7.0" height="7.0" fill="#f00"/>
<rect x="107.4" y="454.9" width="7.0" height="7.0" fill="#f00"/>
<rect x="117.9" y="454.9" width="7.0" height="7.0" fill="#f00"/>
<rect x="124.9" y="453.7" width="7.0" height="7.0" fill="#f00"/>
<rect x="121.4" y="459.6" width="7.0" height="7.0" fill="#f00"/>
<rect x="130.7" y="459.6" width="7.0" height="7.0" fill="#f00"/>
<rect x="117.9" y="464.8" width="7.0" height="7.0" fill="#f00"/>
<rect x="125.5" y="467.7" width="7.0" height="7.0" fill="#f00"/>
<rect x="137.7" y="465.4" width="7.0" height="7.0" fill="#f00"/>
<rect x="94.5" y="467.2" width="7.0" height="7.0" fill="#f00"/>
<rect x="88.7" y="476.5" width="7.0" height="7.0" fill="#f00"/>
<rect x="89.3" y="485.3" width="7.0" height="7.0" fill="#f00"/>
<rect x="106.8" y="471.8" width="7.0" height="7.0" fill="#f00"/>
<rect x="106.8" y="477.1" width="7.0" height="7.0" fill="#f00"/>
<rect x="127.2" y="477.1" width="7.0" height="7.0" fill="#f00"/>
<rect x="123.7" y="481.8" width="7.0" height="7.0" fill="#f00"/>
<rect x="129.6" y="482.9" width="7.0" height="7.0" fill="#f00"/>
<rect x="112.0" y="484.1" width="7.0" height="7.0" fill="#f00"/>
<rect x="108.0" y="488.8" width="7.0" height="7.0" fill="#f00"/>
<rect x="113.2" y="489.9" width="7.0" height="7.0" fill="#f00"/>
<rect x="121.4" y="489.9" width="7.0" height="7.0" fill="#f00"/>
<rect x="117.9" y="494.0" width="7.0" height="7.0" fill="#f00"/>
<rect x="136.6" y="494.0" width="7.0" height="7.0" fill="#f00"/>
<rect x="144.7" y="474.7" width="7.0" height="7.0" fill="#f00"/>
<rect x="144.7" y="486.4" width="7.0" height="7.0" fill="#f00"/>
<rect x="89.3" y="486.5" width="7.0" height="7.0" fill="#f00"/>
<rect x="107.4" y="489.4" width="7.0" height="7.0" fill="#f00"/>
<rect x="114.4" y="497.6" width="7.0" height="7.0" fill="#f00"/>
<rect x="119.1" y="498.8" width="7.0" height="7.0" fill="#f00"/>
<rect x="127.2" y="498.2" width="7.0" height="7.0" fill="#f00"/>
<rect x="136.6" y="495.3" width="7.0" height="7.0" fill="#f00"/>
<rect x="127.2" y="507.5" width="7.0" height="7.0" fill="#f00"/>
<rect x="135.4" y="506.4" width="7.0" height="7.0" fill="#f00"/>
<rect x="131.9" y="512.2" width="7.0" height="7.0" fill="#f00"/>
<rect x="136.6" y="515.1" width="7.0" height="7.0" fill="#f00"/>
<rect x="104.5" y="510.4" width="7.0" height="7.0" fill="#f00"/>
<rect x="108.0" y="513.4" width="7.0" height="7.0" fill="#f00"/>
<rect x="85.2" y="518.0" width="7.0" height="7.0" fill="#f00"/>
<rect x="77.6" y="522.7" width="7.0" height="7.0" fill="#f00"/>
<rect x="81.7" y="530.3" width="7.0" height="7.0" fill="#f00"/>
<rect x="99.8" y="522.7" width="7.0" height="7.0" fill="#f00"/>
<rect x="106.2" y="523.9" width="7.0" height="7.0" fill="#f00"/>
<rect x="101.5" y="527.4" width="7.0" height="7.0" fill="#f00"/>
<rect x="116.7" y="522.7" width="7.0" height="7.0" fill="#f00"/>
<rect x="119.1" y="527.4" width="7.0" height="7.0" fill="#f00"/>
<rect x="113.2" y="529.7" width="7.0" height="7.0" fill="#f00"/>
<rect x="108.5" y="532.0" width="7.0" height="7.0" fill="#f00"/>
<rect x="124.9" y="521.5" width="7.0" height="7.0" fill="#f00"/>
<rect x="129.6" y="520.4" width="7.0" height="7.0" fill="#f00"/>
<rect x="127.2" y="526.2" width="7.0" height="7.0" fill="#f00"/>
<rect x="123.7" y="530.9" width="7.0" height="7.0" fill="#f00"/>
<rect x="129.6" y="529.7" width="7.0" height="7.0" fill="#f00"/>
<rect x="135.4" y="527.4" width="7.0" height="7.0" fill="#f00"/>
<rect x="140.1" y="525.0" width="7.0" height="7.0" fill="#f00"/>
<rect x="142.4" y="530.9" width="7.0" height="7.0" fill="#f00"/>
<rect x="101.5" y="534.4" width="7.0" height="7.0" fill="#f00"/>
<rect x="105.0" y="537.9" width="7.0" height="7.0" fill="#f00"/>
<rect x="101.0" y="541.4" width="7.0" height="7.0" fill="#f00"/>
<rect x="100.4" y="547.2" width="7.0" height="7.0" fill="#f00"/>
<rect x="113.2" y="546.1" width="7.0" height="7.0" fill="#f00"/>
<rect x="120.2" y="546.1" width="7.0" height="7.0" fill="#f00"/>
<rect x="113.2" y="550.7" width="7.0" height="7.0" fill="#f00"/>
<rect x="119.1" y="551.9" width="7.0" height="7.0" fill="#f00"/>
<rect x="126.1" y="535.6" width="7.0" height="7.0" fill="#f00"/>
<rect x="131.9" y="536.7" width="7.0" height="7.0" fill="#f00"/>
<rect x="128.4" y="541.4" width="7.0" height="7.0" fill="#f00"/>
<rect x="135.4" y="543.7" width="7.0" height="7.0" fill="#f00"/>
<rect x="141.2" y="543.7" width="7.0" height="7.0" fill="#f00"/>
<rect x="142.4" y="537.9" width="7.0" height="7.0" fill="#f00"/>
<rect x="130.2" y="553.1" width="7.0" height="7.0" fill="#f00"/>
<rect x="122.6" y="556.6" width="7.0" height="7.0" fill="#f00"/>
<rect x="126.1" y="560.1" width="7.0" height="7.0" fill="#f00"/>
<rect x="113.8" y="564.2" width="7.0" height="7.0" fill="#f00"/>
<rect x="123.7" y="565.9" width="7.0" height="7.0" fill="#f00"/>
<rect x="138.9" y="556.6" width="7.0" height="7.0" fill="#f00"/>
<rect x="143.6" y="554.2" width="7.0" height="7.0" fill="#f00"/>
<rect x="142.4" y="561.2" width="7.0" height="7.0" fill="#f00"/>
<rect x="144.7" y="501.7" width="7.0" height="7.0" fill="#f00"/>
<rect x="143.6" y="509.9" width="7.0" height="7.0" fill="#f00"/>
<rect x="144.7" y="516.9" width="7.0" height="7.0" fill="#f00"/>
<rect x="171.0" y="422.2" width="7.0" height="7.0" fill="#f00"/>
<rect x="183.8" y="436.8" width="7.0" height="7.0" fill="#f00"/>
<rect x="158.1" y="442.0" width="7.0" height="7.0" fill="#f00"/>
<rect x="148.2" y="436.8" width="7.0" height="7.0" fill="#f00"/>
<rect x="147.6" y="457.2" width="7.0" height="7.0" fill="#f00"/>
<rect x="161.0" y="460.7" width="7.0" height="7.0" fill="#f00"/>
<rect x="157.5" y="463.7" width="7.0" height="7.0" fill="#f00"/>
<rect x="152.9" y="467.7" width="7.0" height="7.0" fill="#f00"/>
<rect x="150.5" y="473.6" width="7.0" height="7.0" fill="#f00"/>
<rect x="147.0" y="482.9" width="7.0" height="7.0" fill="#f00"/>
<rect x="145.8" y="489.9" width="7.0" height="7.0" fill="#f00"/>
<rect x="160.4" y="489.9" width="7.0" height="7.0" fill="#f00"/>
<rect x="173.9" y="471.2" width="7.0" height="7.0" fill="#f00"/>
<rect x="172.7" y="478.3" width="7.0" height="7.0" fill="#f00"/>
<rect x="171.5" y="485.3" width="7.0" height="7.0" fill="#f00"/>
<rect x="173.9" y="489.9" width="7.0" height="7.0" fill="#f00"/>
<rect x="168.0" y="493.4" width="7.0" height="7.0" fill="#f00"/>
<rect x="185.0" y="472.4" width="7.0" height="7.0" fill="#f00"/>
<rect x="193.1" y="477.1" width="7.0" height="7.0" fill="#f00"/>
<rect x="195.5" y="455.5" width="7.0" height="7.0" fill="#f00"/>
<rect x="208.3" y="450.8" width="7.0" height="7.0" fill="#f00"/>
<rect x="211.2" y="471.8" width="7.0" height="7.0" fill="#f00"/>
<rect x="215.9" y="470.7" width="7.0" height="7.0" fill="#f00"/>
<rect x="151.7" y="583.4" width="7.0" height="7.0" fill="#f00"/>
<rect x="201.3" y="522.1" width="7.0" height="7.0" fill="#f00"/>
<rect x="179.7" y="516.3" width="7.0" height="7.0" fill="#f00"/>
<rect x="173.3" y="516.3" width="7.0" height="7.0" fill="#f00"/>
<rect x="178.0" y="531.5" width="7.0" height="7.0" fill="#f00"/>
<rect x="180.9" y="539.1" width="7.0" height="7.0" fill="#f00"/>
<rect x="169.2" y="549.0" width="7.0" height="7.0" fill="#f00"/>
<rect x="171.0" y="554.8" width="7.0" height="7.0" fill="#f00"/>
<rect x="161.0" y="490.0" width="7.0" height="7.0" fill="#f00"/>
<rect x="149.3" y="490.0" width="7.0" height="7.0" fill="#f00"/>
<rect x="151.7" y="500.5" width="7.0" height="7.0" fill="#f00"/>
<rect x="164.5" y="500.5" width="7.0" height="7.0" fill="#f00"/>
<rect x="170.4" y="504.0" width="7.0" height="7.0" fill="#f00"/>
<rect x="159.9" y="505.2" width="7.0" height="7.0" fill="#f00"/>
<rect x="163.4" y="512.2" width="7.0" height="7.0" fill="#f00"/>
<rect x="145.8" y="506.4" width="7.0" height="7.0" fill="#f00"/>
<rect x="143.5" y="515.7" width="7.0" height="7.0" fill="#f00"/>
<rect x="151.7" y="516.9" width="7.0" height="7.0" fill="#f00"/>
<rect x="150.5" y="525.0" width="7.0" height="7.0" fill="#f00"/>
<rect x="158.7" y="525.0" width="7.0" height="7.0" fill="#f00"/>
<rect x="161.0" y="530.9" width="7.0" height="7.0" fill="#f00"/>
<rect x="154.0" y="533.2" width="7.0" height="7.0" fill="#f00"/>
<rect x="148.2" y="533.2" width="7.0" height="7.0" fill="#f00"/>
<rect x="165.7" y="535.6" width="7.0" height="7.0" fill="#f00"/>
<rect x="171.5" y="535.6" width="7.0" height="7.0" fill="#f00"/>
<rect x="158.7" y="539.1" width="7.0" height="7.0" fill="#f00"/>
<rect x="150.5" y="541.4" width="7.0" height="7.0" fill="#f00"/>
<rect x="140.0" y="533.2" width="7.0" height="7.0" fill="#f00"/>
<rect x="140.0" y="542.6" width="7.0" height="7.0" fill="#f00"/>
<rect x="142.3" y="551.9" width="7.0" height="7.0" fill="#f00"/>
<rect x="148.2" y="549.6" width="7.0" height="7.0" fill="#f00"/>
<rect x="155.2" y="550.7" width="7.0" height="7.0" fill="#f00"/>
<rect x="141.2" y="557.7" width="7.0" height="7.0" fill="#f00"/>
<rect x="143.5" y="562.4" width="7.0" height="7.0" fill="#f00"/>
<rect x="137.7" y="554.2" width="7.0" height="7.0" fill="#f00"/>
<rect x="155.5" y="496.5" width="7.0" height="7.0" fill="#f00"/>
<rect x="157.5" y="510.5" width="7.0" height="7.0" fill="#f00"/>
<rect x="154.5" y="520.5" width="7.0" height="7.0" fill="#f00"/>
<rect x="164.5" y="518.5" width="7.0" height="7.0" fill="#f00"/>
<rect x="166.5" y="527.5" width="7.0" height="7.0" fill="#f00"/>
<rect x="156.5" y="544.5" width="7.0" height="7.0" fill="#f00"/>
<rect x="162.5" y="542.5" width="7.0" height="7.0" fill="#f00"/>
<rect x="148.5" y="510.5" width="7.0" height="7.0" fill="#f00"/>
<rect x="146.5" y="523.5" width="7.0" height="7.0" fill="#f00"/>
<rect x="152.5" y="506.5" width="7.0" height="7.0" fill="#f00"/>
<rect x="167.5" y="508.5" width="7.0" height="7.0" fill="#f00"/>
<rect x="161.5" y="496.5" width="7.0" height="7.0" fill="#f00"/>
<rect x="133.5" y="500.5" width="7.0" height="7.0" fill="#f00"/>
<rect x="139.5" y="504.5" width="7.0" height="7.0" fill="#f00"/>
<rect x="122.5" y="512.5" width="7.0" height="7.0" fill="#f00"/>
<rect x="116.5" y="514.5" width="7.0" height="7.0" fill="#f00"/>
<rect x="110.5" y="518.5" width="7.0" height="7.0" fill="#f00"/>
<rect x="120.5" y="534.5" width="7.0" height="7.0" fill="#f00"/>
<rect x="114.5" y="538.5" width="7.0" height="7.0" fill="#f00"/>
<rect x="108.5" y="542.5" width="7.0" height="7.0" fill="#f00"/>
<rect x="122.5" y="542.5" width="7.0" height="7.0" fill="#f00"/>
<rect x="132.5" y="548.5" width="7.0" height="7.0" fill="#f00"/>
<rect x="136.5" y="534.5" width="7.0" height="7.0" fill="#f00"/>
<circle cx="118.5" cy="478.2" r="4.3" fill="#0f0"/>
<circle cx="103.9" cy="556.6" r="4.3" fill="#0f0"/>
<circle cx="151.1" cy="413.4" r="4.3" fill="#0f0"/>
<circle cx="166.9" cy="413.4" r="4.3" fill="#0f0"/>
<circle cx="177.4" cy="442.6" r="4.3" fill="#0f0"/>
<circle cx="189.0" cy="464.0" r="4.3" fill="#0f0"/>
<circle cx="214.7" cy="462.5" r="4.3" fill="#0f0"/>
<circle cx="204.8" cy="483.5" r="4.3" fill="#0f0"/>
<circle cx="188.5" cy="499.9" r="4.3" fill="#0f0"/>
<circle cx="192.0" cy="509.3" r="4.3" fill="#0f0"/>
<circle cx="185.5" cy="512.8" r="4.3" fill="#0f0"/>
<circle cx="193.7" cy="513.9" r="4.3" fill="#0f0"/>
<circle cx="179.7" cy="513.4" r="4.3" fill="#0f0"/>
<circle cx="173.9" cy="528.0" r="4.3" fill="#0f0"/>
<circle cx="197.2" cy="543.1" r="4.3" fill="#0f0"/>
<circle cx="185.0" cy="555.4" r="4.3" fill="#0f0"/>
<circle cx="179.7" cy="570.0" r="4.3" fill="#0f0"/>
<circle cx="165.1" cy="487.0" r="4.3" fill="#0f0"/>
<circle cx="158.7" cy="481.8" r="4.3" fill="#0f0"/>
<circle cx="157.5" cy="497.6" r="4.3" fill="#0f0"/>
<circle cx="153.4" cy="435.0" r="4.3" fill="#0f0"/>
<circle cx="149.3" cy="453.7" r="4.3" fill="#0f0"/>
<path d="M201.7 535.1L207.2 524.3L212.7 535.1z" fill="#000"/>
<path d="M186.5 526.9L192.0 516.1L197.5 526.9z" fill="#000"/>
<path d="M198.1 550.9L203.6 540.1L209.1 550.9z" fill="#000"/>
<path d="M191.1 559.6L196.6 548.8L202.1 559.6z" fill="#000"/>
<path d="M164.9 567.8L170.4 557.0L175.9 567.8z" fill="#000"/>
<path d="M194.0 491.0L199.5 480.2L205.0 491.0z" fill="#000"/>
<path d="M217.2 465.8L222.7 455.0L228.2 465.8z" fill="#000"/>
<ellipse cx="129.5" cy="493.3" rx="53" ry="84.8" transform="rotate(0 129.5 493.3)" fill="none" stroke="#e40000" stroke-width="1.8"/>
<ellipse cx="176.5" cy="493.1" rx="32.6" ry="89.1" transform="rotate(-0.3 176.5 493.1)" fill="none" stroke="#0f0" stroke-width="2.4"/>
<ellipse cx="271.6" cy="512.6" rx="107.8" ry="87.3" transform="rotate(-60.7 271.6 512.6)" fill="none" stroke="#111" stroke-width="1.8"/>
<rect x="45.6" y="396.8" width="328.7" height="221.2" fill="none" stroke="#000" stroke-width="1.3"/>
<text x="47.6" y="406.8" font-size="12.1" text-anchor="start" >R<tspan font-size="7.74" dy="-3.27">2</tspan><tspan dy="3.27">X: 0.37</tspan></text>
<text x="47.6" y="419.40000000000003" font-size="12.1" text-anchor="start" >R<tspan font-size="7.74" dy="-3.27">2</tspan><tspan dy="3.27">Y: 0.16</tspan></text>
<text x="47.6" y="432.0" font-size="12.1" text-anchor="start" >Q<tspan font-size="7.74" dy="-3.27">2</tspan><tspan dy="3.27">: 0.11</tspan></text>
<text transform="translate(32.0,496) rotate(-90) scale(0.937,1)" font-size="15.9" text-anchor="middle">t[2] = 7.37 %</text>
<text transform="translate(200.2,629.6) scale(1.11,1)" font-size="13.9" text-anchor="middle">t[1] = 8.13 %</text>
<path d="M249.3 361.7L253.4 353.3L257.5 361.7z" fill="#000"/>
<text x="259.9" y="361.7" font-size="14.9" text-anchor="start" >Without obesity</text>
<circle cx="253.3" cy="373.4" r="4" fill="#3c3"/>
<text x="259.9" y="376.2" font-size="14.5" text-anchor="start" >MHO</text>
<rect x="249.6" y="384.1" width="7.6" height="7.6" fill="#f00"/>
<text x="259.9" y="390.9" font-size="14.5" text-anchor="start" >MUO</text>
<line x1="546.7" y1="414.4" x2="546.7" y2="609.7" stroke="#333" stroke-width="1"/>
<line x1="546.2" y1="609.7" x2="670.6" y2="609.7" stroke="#333" stroke-width="1"/>
<line x1="546.7" y1="609.7" x2="546.7" y2="611.9000000000001" stroke="#333" stroke-width="1"/>
<text transform="translate(546.7,621.0) scale(0.86,1)" font-size="10.8" text-anchor="middle" fill="#222">0.0</text>
<line x1="571.5" y1="609.7" x2="571.5" y2="611.9000000000001" stroke="#333" stroke-width="1"/>
<text transform="translate(571.5,621.0) scale(0.86,1)" font-size="10.8" text-anchor="middle" fill="#222">0.5</text>
<line x1="596.0" y1="609.7" x2="596.0" y2="611.9000000000001" stroke="#333" stroke-width="1"/>
<text transform="translate(596.0,621.0) scale(0.86,1)" font-size="10.8" text-anchor="middle" fill="#222">1.0</text>
<line x1="620.8" y1="609.7" x2="620.8" y2="611.9000000000001" stroke="#333" stroke-width="1"/>
<text transform="translate(620.8,621.0) scale(0.86,1)" font-size="10.8" text-anchor="middle" fill="#222">1.5</text>
<line x1="645.3" y1="609.7" x2="645.3" y2="611.9000000000001" stroke="#333" stroke-width="1"/>
<text transform="translate(645.3,621.0) scale(0.86,1)" font-size="10.8" text-anchor="middle" fill="#222">2.0</text>
<line x1="670.1" y1="609.7" x2="670.1" y2="611.9000000000001" stroke="#333" stroke-width="1"/>
<text transform="translate(670.1,621.0) scale(0.86,1)" font-size="10.8" text-anchor="middle" fill="#222">2.5</text>
<text transform="translate(543.4,424.45) scale(0.935,1)" font-size="10.0" text-anchor="end" fill="#111">Citric acid</text>
<text transform="translate(543.4,437.43) scale(0.935,1)" font-size="10.0" text-anchor="end" fill="#111">Phenylalanine</text>
<text transform="translate(543.4,450.41) scale(0.935,1)" font-size="10.0" text-anchor="end" fill="#111">1,5-Anhydroglucitol</text>
<text transform="translate(543.4,463.39) scale(0.935,1)" font-size="10.0" text-anchor="end" fill="#111">Stearic acid</text>
<text transform="translate(543.4,476.37) scale(0.935,1)" font-size="10.0" text-anchor="end" fill="#111">Valine</text>
<text transform="translate(543.4,489.35) scale(0.935,1)" font-size="10.0" text-anchor="end" fill="#111">Palmitic acid</text>
<text transform="translate(543.4,502.33) scale(0.935,1)" font-size="10.0" text-anchor="end" fill="#111">Leucine and Isoleucine</text>
<text transform="translate(543.4,515.31) scale(0.935,1)" font-size="10.0" text-anchor="end" fill="#111">Serine</text>
<text transform="translate(543.4,528.29) scale(0.935,1)" font-size="10.0" text-anchor="end" fill="#111">Proline</text>
<text transform="translate(543.4,541.27) scale(0.935,1)" font-size="10.0" text-anchor="end" fill="#111">Lysine</text>
<text transform="translate(543.4,554.25) scale(0.935,1)" font-size="10.0" text-anchor="end" fill="#111">Linoleic acid</text>
<text transform="translate(543.4,567.23) scale(0.935,1)" font-size="10.0" text-anchor="end" fill="#111">Petroselinic acid</text>
<text transform="translate(543.4,580.21) scale(0.935,1)" font-size="10.0" text-anchor="end" fill="#111">Alanine</text>
<text transform="translate(543.4,593.19) scale(0.935,1)" font-size="10.0" text-anchor="end" fill="#111">Cholesterol</text>
<text transform="translate(543.4,606.17) scale(0.935,1)" font-size="10.0" text-anchor="end" fill="#111">Glycine</text>
<line x1="544.1" y1="421.10" x2="546.7" y2="421.10" stroke="#333" stroke-width="0.9"/>
<line x1="544.1" y1="434.08" x2="546.7" y2="434.08" stroke="#333" stroke-width="0.9"/>
<line x1="544.1" y1="447.06" x2="546.7" y2="447.06" stroke="#333" stroke-width="0.9"/>
<line x1="544.1" y1="460.04" x2="546.7" y2="460.04" stroke="#333" stroke-width="0.9"/>
<line x1="544.1" y1="473.02" x2="546.7" y2="473.02" stroke="#333" stroke-width="0.9"/>
<line x1="544.1" y1="486.00" x2="546.7" y2="486.00" stroke="#333" stroke-width="0.9"/>
<line x1="544.1" y1="498.98" x2="546.7" y2="498.98" stroke="#333" stroke-width="0.9"/>
<line x1="544.1" y1="511.96" x2="546.7" y2="511.96" stroke="#333" stroke-width="0.9"/>
<line x1="544.1" y1="524.94" x2="546.7" y2="524.94" stroke="#333" stroke-width="0.9"/>
<line x1="544.1" y1="537.92" x2="546.7" y2="537.92" stroke="#333" stroke-width="0.9"/>
<line x1="544.1" y1="550.90" x2="546.7" y2="550.90" stroke="#333" stroke-width="0.9"/>
<line x1="544.1" y1="563.88" x2="546.7" y2="563.88" stroke="#333" stroke-width="0.9"/>
<line x1="544.1" y1="576.86" x2="546.7" y2="576.86" stroke="#333" stroke-width="0.9"/>
<line x1="544.1" y1="589.84" x2="546.7" y2="589.84" stroke="#333" stroke-width="0.9"/>
<line x1="544.1" y1="602.82" x2="546.7" y2="602.82" stroke="#333" stroke-width="0.9"/>
<circle cx="657.25" cy="421.10" r="2.8" fill="#000"/>
<circle cx="614.6" cy="434.08" r="2.8" fill="#000"/>
<circle cx="611.4" cy="447.06" r="2.8" fill="#000"/>
<circle cx="611.1" cy="460.04" r="2.8" fill="#000"/>
<circle cx="610.9" cy="473.02" r="2.8" fill="#000"/>
<circle cx="608.4" cy="486.00" r="2.8" fill="#000"/>
<circle cx="606.7" cy="498.98" r="2.8" fill="#000"/>
<circle cx="604.7" cy="511.96" r="2.8" fill="#000"/>
<circle cx="604.4" cy="524.94" r="2.8" fill="#000"/>
<circle cx="603.2" cy="537.92" r="2.8" fill="#000"/>
<circle cx="602.2" cy="550.90" r="2.8" fill="#000"/>
<circle cx="602.0" cy="563.88" r="2.8" fill="#000"/>
<circle cx="601.2" cy="576.86" r="2.8" fill="#000"/>
<circle cx="599.5" cy="589.84" r="2.8" fill="#000"/>
<circle cx="598.2" cy="602.82" r="2.8" fill="#000"/>
<text x="608" y="639.3" font-size="14" text-anchor="middle" >VIP score</text>
<text transform="translate(437,517.2) rotate(-90)" font-size="16.4" text-anchor="middle">Metabolites</text>
<text x="575" y="364" font-size="18.0" text-anchor="middle" >VIP plot</text>
<text x="575" y="381.2" font-size="17.7" text-anchor="middle" >(Without obesity vs MHO</text>
<text x="574.5" y="398.6" font-size="17.5" text-anchor="middle" >vs MUO)</text>
<line x1="43.6" y1="842.5" x2="372.5" y2="842.5" stroke="#777" stroke-width="0.9"/>
<line x1="180" y1="729.2" x2="180" y2="955" stroke="#777" stroke-width="0.9"/>
<circle cx="166.2" cy="790.2" r="4.35" fill="#0f0"/>
<circle cx="161.0" cy="815.3" r="4.35" fill="#0f0"/>
<circle cx="151.6" cy="906.8" r="4.35" fill="#0f0"/>
<circle cx="198.0" cy="829.9" r="4.35" fill="#0f0"/>
<circle cx="208.5" cy="853.7" r="4.35" fill="#0f0"/>
<circle cx="225.5" cy="885.8" r="4.35" fill="#0f0"/>
<circle cx="224.3" cy="902.7" r="4.35" fill="#0f0"/>
<circle cx="181.7" cy="909.2" r="4.35" fill="#0f0"/>
<circle cx="260.0" cy="766.9" r="4.35" fill="#0f0"/>
<rect x="56.1" y="771.5" width="7.8" height="7.8" fill="#f00"/>
<rect x="64.1" y="798.1" width="7.8" height="7.8" fill="#f00"/>
<rect x="64.1" y="843.1" width="7.8" height="7.8" fill="#f00"/>
<rect x="83.1" y="867.7" width="7.8" height="7.8" fill="#f00"/>
<rect x="101.6" y="758.3" width="7.8" height="7.8" fill="#f00"/>
<rect x="100.4" y="774.6" width="7.8" height="7.8" fill="#f00"/>
<rect x="98.1" y="803.3" width="7.8" height="7.8" fill="#f00"/>
<rect x="111.5" y="817.9" width="7.8" height="7.8" fill="#f00"/>
<rect x="120.9" y="807.9" width="7.8" height="7.8" fill="#f00"/>
<rect x="122.0" y="791.6" width="7.8" height="7.8" fill="#f00"/>
<rect x="113.9" y="783.4" width="7.8" height="7.8" fill="#f00"/>
<rect x="117.4" y="778.7" width="7.8" height="7.8" fill="#f00"/>
<rect x="124.4" y="777.6" width="7.8" height="7.8" fill="#f00"/>
<rect x="121.5" y="782.8" width="7.8" height="7.8" fill="#f00"/>
<rect x="132.6" y="770.0" width="7.8" height="7.8" fill="#f00"/>
<rect x="121.5" y="751.9" width="7.8" height="7.8" fill="#f00"/>
<rect x="125.0" y="744.3" width="7.8" height="7.8" fill="#f00"/>
<rect x="130.8" y="744.3" width="7.8" height="7.8" fill="#f00"/>
<rect x="133.1" y="750.1" width="7.8" height="7.8" fill="#f00"/>
<rect x="158.8" y="745.4" width="7.8" height="7.8" fill="#f00"/>
<rect x="160.0" y="764.7" width="7.8" height="7.8" fill="#f00"/>
<rect x="152.4" y="771.1" width="7.8" height="7.8" fill="#f00"/>
<rect x="155.3" y="778.7" width="7.8" height="7.8" fill="#f00"/>
<rect x="158.8" y="785.7" width="7.8" height="7.8" fill="#f00"/>
<rect x="136.1" y="781.1" width="7.8" height="7.8" fill="#f00"/>
<rect x="141.3" y="784.0" width="7.8" height="7.8" fill="#f00"/>
<rect x="143.7" y="788.7" width="7.8" height="7.8" fill="#f00"/>
<rect x="148.3" y="792.7" width="7.8" height="7.8" fill="#f00"/>
<rect x="139.6" y="799.8" width="7.8" height="7.8" fill="#f00"/>
<rect x="150.7" y="800.9" width="7.8" height="7.8" fill="#f00"/>
<rect x="157.7" y="805.0" width="7.8" height="7.8" fill="#f00"/>
<rect x="161.2" y="799.8" width="7.8" height="7.8" fill="#f00"/>
<rect x="153.0" y="814.9" width="7.8" height="7.8" fill="#f00"/>
<rect x="136.6" y="819.6" width="7.8" height="7.8" fill="#f00"/>
<rect x="127.3" y="820.8" width="7.8" height="7.8" fill="#f00"/>
<rect x="120.9" y="821.9" width="7.8" height="7.8" fill="#f00"/>
<rect x="126.1" y="829.5" width="7.8" height="7.8" fill="#f00"/>
<rect x="134.3" y="829.5" width="7.8" height="7.8" fill="#f00"/>
<rect x="142.5" y="830.7" width="7.8" height="7.8" fill="#f00"/>
<rect x="151.8" y="827.2" width="7.8" height="7.8" fill="#f00"/>
<rect x="160.0" y="821.4" width="7.8" height="7.8" fill="#f00"/>
<rect x="167.0" y="820.2" width="7.8" height="7.8" fill="#f00"/>
<rect x="158.8" y="833.0" width="7.8" height="7.8" fill="#f00"/>
<rect x="130.8" y="833.0" width="7.8" height="7.8" fill="#f00"/>
<rect x="124.4" y="836.4" width="7.8" height="7.8" fill="#f00"/>
<rect x="133.1" y="832.9" width="7.8" height="7.8" fill="#f00"/>
<rect x="140.1" y="835.8" width="7.8" height="7.8" fill="#f00"/>
<rect x="144.8" y="839.9" width="7.8" height="7.8" fill="#f00"/>
<rect x="158.8" y="833.4" width="7.8" height="7.8" fill="#f00"/>
<rect x="116.8" y="847.5" width="7.8" height="7.8" fill="#f00"/>
<rect x="122.0" y="849.8" width="7.8" height="7.8" fill="#f00"/>
<rect x="126.1" y="853.3" width="7.8" height="7.8" fill="#f00"/>
<rect x="97.5" y="855.6" width="7.8" height="7.8" fill="#f00"/>
<rect x="103.9" y="860.9" width="7.8" height="7.8" fill="#f00"/>
<rect x="109.2" y="865.6" width="7.8" height="7.8" fill="#f00"/>
<rect x="115.6" y="858.5" width="7.8" height="7.8" fill="#f00"/>
<rect x="120.3" y="865.0" width="7.8" height="7.8" fill="#f00"/>
<rect x="129.6" y="859.1" width="7.8" height="7.8" fill="#f00"/>
<rect x="135.5" y="852.1" width="7.8" height="7.8" fill="#f00"/>
<rect x="145.4" y="852.1" width="7.8" height="7.8" fill="#f00"/>
<rect x="144.8" y="859.1" width="7.8" height="7.8" fill="#f00"/>
<rect x="136.6" y="864.4" width="7.8" height="7.8" fill="#f00"/>
<rect x="130.8" y="868.5" width="7.8" height="7.8" fill="#f00"/>
<rect x="126.1" y="870.8" width="7.8" height="7.8" fill="#f00"/>
<rect x="108.6" y="874.3" width="7.8" height="7.8" fill="#f00"/>
<rect x="113.3" y="877.8" width="7.8" height="7.8" fill="#f00"/>
<rect x="96.4" y="877.2" width="7.8" height="7.8" fill="#f00"/>
<rect x="108.0" y="882.5" width="7.8" height="7.8" fill="#f00"/>
<rect x="110.4" y="886.6" width="7.8" height="7.8" fill="#f00"/>
<rect x="115.0" y="889.5" width="7.8" height="7.8" fill="#f00"/>
<rect x="115.6" y="896.5" width="7.8" height="7.8" fill="#f00"/>
<rect x="115.0" y="901.8" width="7.8" height="7.8" fill="#f00"/>
<rect x="122.6" y="876.6" width="7.8" height="7.8" fill="#f00"/>
<rect x="125.0" y="882.5" width="7.8" height="7.8" fill="#f00"/>
<rect x="128.5" y="884.8" width="7.8" height="7.8" fill="#f00"/>
<rect x="125.0" y="889.5" width="7.8" height="7.8" fill="#f00"/>
<rect x="125.0" y="894.2" width="7.8" height="7.8" fill="#f00"/>
<rect x="141.3" y="887.2" width="7.8" height="7.8" fill="#f00"/>
<rect x="146.0" y="886.0" width="7.8" height="7.8" fill="#f00"/>
<rect x="142.5" y="894.2" width="7.8" height="7.8" fill="#f00"/>
<rect x="143.7" y="896.5" width="7.8" height="7.8" fill="#f00"/>
<rect x="148.9" y="900.0" width="7.8" height="7.8" fill="#f00"/>
<rect x="148.3" y="910.5" width="7.8" height="7.8" fill="#f00"/>
<rect x="163.5" y="895.9" width="7.8" height="7.8" fill="#f00"/>
<rect x="144.8" y="868.5" width="7.8" height="7.8" fill="#f00"/>
<rect x="149.5" y="863.8" width="7.8" height="7.8" fill="#f00"/>
<rect x="151.8" y="870.8" width="7.8" height="7.8" fill="#f00"/>
<rect x="147.2" y="874.3" width="7.8" height="7.8" fill="#f00"/>
<rect x="155.3" y="879.0" width="7.8" height="7.8" fill="#f00"/>
<rect x="156.5" y="856.8" width="7.8" height="7.8" fill="#f00"/>
<rect x="161.2" y="854.5" width="7.8" height="7.8" fill="#f00"/>
<rect x="163.5" y="861.5" width="7.8" height="7.8" fill="#f00"/>
<rect x="158.8" y="865.0" width="7.8" height="7.8" fill="#f00"/>
<rect x="160.0" y="873.1" width="7.8" height="7.8" fill="#f00"/>
<rect x="168.2" y="860.3" width="7.8" height="7.8" fill="#f00"/>
<rect x="168.2" y="875.5" width="7.8" height="7.8" fill="#f00"/>
<rect x="165.8" y="880.1" width="7.8" height="7.8" fill="#f00"/>
<rect x="193.5" y="747.2" width="7.8" height="7.8" fill="#f00"/>
<rect x="226.8" y="761.2" width="7.8" height="7.8" fill="#f00"/>
<rect x="227.8" y="771.1" width="7.8" height="7.8" fill="#f00"/>
<rect x="191.2" y="773.5" width="7.8" height="7.8" fill="#f00"/>
<rect x="194.7" y="776.4" width="7.8" height="7.8" fill="#f00"/>
<rect x="184.2" y="780.5" width="7.8" height="7.8" fill="#f00"/>
<rect x="174.3" y="783.4" width="7.8" height="7.8" fill="#f00"/>
<rect x="171.4" y="787.5" width="7.8" height="7.8" fill="#f00"/>
<rect x="180.1" y="789.2" width="7.8" height="7.8" fill="#f00"/>
<rect x="186.0" y="792.2" width="7.8" height="7.8" fill="#f00"/>
<rect x="175.4" y="802.1" width="7.8" height="7.8" fill="#f00"/>
<rect x="183.0" y="801.5" width="7.8" height="7.8" fill="#f00"/>
<rect x="186.5" y="808.5" width="7.8" height="7.8" fill="#f00"/>
<rect x="174.3" y="812.0" width="7.8" height="7.8" fill="#f00"/>
<rect x="184.8" y="813.8" width="7.8" height="7.8" fill="#f00"/>
<rect x="168.4" y="819.6" width="7.8" height="7.8" fill="#f00"/>
<rect x="186.0" y="823.1" width="7.8" height="7.8" fill="#f00"/>
<rect x="191.2" y="824.3" width="7.8" height="7.8" fill="#f00"/>
<rect x="201.1" y="827.8" width="7.8" height="7.8" fill="#f00"/>
<rect x="194.7" y="830.7" width="7.8" height="7.8" fill="#f00"/>
<rect x="180.1" y="830.7" width="7.8" height="7.8" fill="#f00"/>
<rect x="184.8" y="833.0" width="7.8" height="7.8" fill="#f00"/>
<rect x="223.9" y="795.7" width="7.8" height="7.8" fill="#f00"/>
<rect x="239.7" y="786.3" width="7.8" height="7.8" fill="#f00"/>
<rect x="243.2" y="800.9" width="7.8" height="7.8" fill="#f00"/>
<rect x="223.3" y="819.0" width="7.8" height="7.8" fill="#f00"/>
<rect x="215.7" y="822.5" width="7.8" height="7.8" fill="#f00"/>
<rect x="233.3" y="821.9" width="7.8" height="7.8" fill="#f00"/>
<rect x="233.8" y="830.7" width="7.8" height="7.8" fill="#f00"/>
<rect x="246.1" y="779.3" width="7.8" height="7.8" fill="#f00"/>
<rect x="200.6" y="842.8" width="7.8" height="7.8" fill="#f00"/>
<rect x="212.2" y="846.3" width="7.8" height="7.8" fill="#f00"/>
<rect x="223.3" y="843.9" width="7.8" height="7.8" fill="#f00"/>
<rect x="222.2" y="849.8" width="7.8" height="7.8" fill="#f00"/>
<rect x="177.8" y="846.3" width="7.8" height="7.8" fill="#f00"/>
<rect x="183.6" y="846.3" width="7.8" height="7.8" fill="#f00"/>
<rect x="175.4" y="851.5" width="7.8" height="7.8" fill="#f00"/>
<rect x="181.3" y="852.1" width="7.8" height="7.8" fill="#f00"/>
<rect x="196.5" y="848.6" width="7.8" height="7.8" fill="#f00"/>
<rect x="195.3" y="854.5" width="7.8" height="7.8" fill="#f00"/>
<rect x="201.1" y="858.5" width="7.8" height="7.8" fill="#f00"/>
<rect x="189.5" y="860.3" width="7.8" height="7.8" fill="#f00"/>
<rect x="177.8" y="859.1" width="7.8" height="7.8" fill="#f00"/>
<rect x="183.6" y="861.5" width="7.8" height="7.8" fill="#f00"/>
<rect x="168.4" y="860.3" width="7.8" height="7.8" fill="#f00"/>
<rect x="210.5" y="862.0" width="7.8" height="7.8" fill="#f00"/>
<rect x="220.4" y="859.1" width="7.8" height="7.8" fill="#f00"/>
<rect x="228.0" y="865.0" width="7.8" height="7.8" fill="#f00"/>
<rect x="208.1" y="867.3" width="7.8" height="7.8" fill="#f00"/>
<rect x="215.1" y="870.8" width="7.8" height="7.8" fill="#f00"/>
<rect x="225.7" y="869.6" width="7.8" height="7.8" fill="#f00"/>
<rect x="226.8" y="877.2" width="7.8" height="7.8" fill="#f00"/>
<rect x="194.1" y="868.5" width="7.8" height="7.8" fill="#f00"/>
<rect x="187.1" y="872.0" width="7.8" height="7.8" fill="#f00"/>
<rect x="168.4" y="875.5" width="7.8" height="7.8" fill="#f00"/>
<rect x="169.0" y="880.1" width="7.8" height="7.8" fill="#f00"/>
<rect x="200.0" y="879.0" width="7.8" height="7.8" fill="#f00"/>
<rect x="207.0" y="879.0" width="7.8" height="7.8" fill="#f00"/>
<rect x="214.0" y="881.3" width="7.8" height="7.8" fill="#f00"/>
<rect x="194.1" y="883.7" width="7.8" height="7.8" fill="#f00"/>
<rect x="202.3" y="888.3" width="7.8" height="7.8" fill="#f00"/>
<rect x="194.7" y="891.8" width="7.8" height="7.8" fill="#f00"/>
<rect x="226.2" y="898.8" width="7.8" height="7.8" fill="#f00"/>
<rect x="195.3" y="902.9" width="7.8" height="7.8" fill="#f00"/>
<rect x="181.9" y="905.3" width="7.8" height="7.8" fill="#f00"/>
<rect x="256.3" y="769.4" width="7.8" height="7.8" fill="#f00"/>
<rect x="248.7" y="779.5" width="7.8" height="7.8" fill="#f00"/>
<rect x="266.2" y="806.8" width="7.8" height="7.8" fill="#f00"/>
<rect x="251.8" y="817.9" width="7.8" height="7.8" fill="#f00"/>
<rect x="312.9" y="799.2" width="7.8" height="7.8" fill="#f00"/>
<rect x="314.7" y="805.6" width="7.8" height="7.8" fill="#f00"/>
<rect x="274.7" y="852.3" width="7.8" height="7.8" fill="#f00"/>
<rect x="289.5" y="852.7" width="7.8" height="7.8" fill="#f00"/>
<rect x="281.3" y="864.6" width="7.8" height="7.8" fill="#f00"/>
<rect x="319.9" y="854.0" width="7.8" height="7.8" fill="#f00"/>
<rect x="172.1" y="842.1" width="7.8" height="7.8" fill="#f00"/>
<rect x="173.1" y="866.1" width="7.8" height="7.8" fill="#f00"/>
<rect x="176.1" y="874.1" width="7.8" height="7.8" fill="#f00"/>
<rect x="180.1" y="866.1" width="7.8" height="7.8" fill="#f00"/>
<rect x="187.1" y="854.1" width="7.8" height="7.8" fill="#f00"/>
<rect x="190.1" y="842.1" width="7.8" height="7.8" fill="#f00"/>
<rect x="172.1" y="854.1" width="7.8" height="7.8" fill="#f00"/>
<circle cx="162.5" cy="760.1" r="4.35" fill="#0f0"/>
<circle cx="173.8" cy="784.4" r="4.35" fill="#0f0"/>
<circle cx="140.0" cy="886.4" r="4.35" fill="#0f0"/>
<circle cx="131.2" cy="902.2" r="4.35" fill="#0f0"/>
<circle cx="167.2" cy="891.1" r="4.35" fill="#0f0"/>
<circle cx="179.9" cy="772.7" r="4.35" fill="#0f0"/>
<circle cx="174.7" cy="785.0" r="4.35" fill="#0f0"/>
<circle cx="203.3" cy="758.7" r="4.35" fill="#0f0"/>
<circle cx="202.1" cy="764.5" r="4.35" fill="#0f0"/>
<circle cx="207.4" cy="771.0" r="4.35" fill="#0f0"/>
<circle cx="217.3" cy="780.3" r="4.35" fill="#0f0"/>
<circle cx="200.6" cy="790.8" r="4.35" fill="#0f0"/>
<circle cx="219.3" cy="806.0" r="4.35" fill="#0f0"/>
<circle cx="230.7" cy="811.2" r="4.35" fill="#0f0"/>
<circle cx="181.7" cy="826.4" r="4.35" fill="#0f0"/>
<circle cx="217.3" cy="838.1" r="4.35" fill="#0f0"/>
<circle cx="217.3" cy="840.8" r="4.35" fill="#0f0"/>
<circle cx="237.2" cy="843.8" r="4.35" fill="#0f0"/>
<circle cx="189.3" cy="884.0" r="4.35" fill="#0f0"/>
<circle cx="241.2" cy="889.3" r="4.35" fill="#0f0"/>
<circle cx="249.4" cy="887.6" r="4.35" fill="#0f0"/>
<circle cx="186.9" cy="896.9" r="4.35" fill="#0f0"/>
<circle cx="191.0" cy="901.0" r="4.35" fill="#0f0"/>
<circle cx="278.9" cy="761.4" r="4.35" fill="#0f0"/>
<circle cx="273.0" cy="788.5" r="4.35" fill="#0f0"/>
<circle cx="258.1" cy="801.9" r="4.35" fill="#0f0"/>
<circle cx="285.5" cy="813.3" r="4.35" fill="#0f0"/>
<circle cx="266.6" cy="836.9" r="4.35" fill="#0f0"/>
<circle cx="273.6" cy="835.8" r="4.35" fill="#0f0"/>
<circle cx="282.4" cy="839.8" r="4.35" fill="#0f0"/>
<circle cx="292.1" cy="844.2" r="4.35" fill="#0f0"/>
<circle cx="298.1" cy="854.3" r="4.35" fill="#0f0"/>
<circle cx="261.1" cy="847.1" r="4.35" fill="#0f0"/>
<circle cx="268.2" cy="846.1" r="4.35" fill="#0f0"/>
<circle cx="253.5" cy="861.9" r="4.35" fill="#0f0"/>
<circle cx="263.0" cy="873.7" r="4.35" fill="#0f0"/>
<circle cx="250.7" cy="887.5" r="4.35" fill="#0f0"/>
<circle cx="357.5" cy="876.1" r="4.35" fill="#0f0"/>
<ellipse cx="159.3" cy="828.6" rx="77.7" ry="89.0" transform="rotate(0 159.3 828.6)" fill="none" stroke="#e40000" stroke-width="1.8"/>
<ellipse cx="240.8" cy="825.2" rx="75.8" ry="82.3" transform="rotate(0 240.8 825.2)" fill="none" stroke="#0f0" stroke-width="2.1"/>
<rect x="43.6" y="729.2" width="328.9" height="225.79999999999995" fill="none" stroke="#000" stroke-width="1.3"/>
<text x="47.6" y="740.1" font-size="12.1" text-anchor="start" >R<tspan font-size="7.74" dy="-3.27">2</tspan><tspan dy="3.27">X: 0.37</tspan></text>
<text x="47.6" y="752.8000000000001" font-size="12.1" text-anchor="start" >R<tspan font-size="7.74" dy="-3.27">2</tspan><tspan dy="3.27">Y: 0.15</tspan></text>
<text x="47.6" y="765.5" font-size="12.1" text-anchor="start" >Q<tspan font-size="7.74" dy="-3.27">2</tspan><tspan dy="3.27">: 0.052</tspan></text>
<text transform="translate(28.0,831.5) rotate(-90) scale(0.937,1)" font-size="15.9" text-anchor="middle">t[2] = 8.52 %</text>
<text transform="translate(197,968.8) scale(1.075,1)" font-size="13.9" text-anchor="middle">t[1] = 6.38 %</text>
<circle cx="324.6" cy="705.6" r="4" fill="#3c3"/>
<text x="332.6" y="708" font-size="14.7" text-anchor="start" >MHO</text>
<rect x="321.1" y="716.9" width="7.4" height="7.4" fill="#f00"/>
<text x="332.6" y="723" font-size="14.7" text-anchor="start" >MUO</text>
<line x1="545.7" y1="731.7" x2="545.7" y2="951.3" stroke="#333" stroke-width="1"/>
<line x1="545.2" y1="951.3" x2="669.9" y2="951.3" stroke="#333" stroke-width="1"/>
<line x1="545.7" y1="951.3" x2="545.7" y2="953.5" stroke="#333" stroke-width="1"/>
<text transform="translate(545.7,964.1) scale(0.86,1)" font-size="11.4" text-anchor="middle" fill="#222">0.0</text>
<line x1="576.5" y1="951.3" x2="576.5" y2="953.5" stroke="#333" stroke-width="1"/>
<text transform="translate(576.5,964.1) scale(0.86,1)" font-size="11.4" text-anchor="middle" fill="#222">0.5</text>
<line x1="607.4" y1="951.3" x2="607.4" y2="953.5" stroke="#333" stroke-width="1"/>
<text transform="translate(607.4,964.1) scale(0.86,1)" font-size="11.4" text-anchor="middle" fill="#222">1.0</text>
<line x1="638.3" y1="951.3" x2="638.3" y2="953.5" stroke="#333" stroke-width="1"/>
<text transform="translate(638.3,964.1) scale(0.86,1)" font-size="11.4" text-anchor="middle" fill="#222">1.5</text>
<line x1="669.4" y1="951.3" x2="669.4" y2="953.5" stroke="#333" stroke-width="1"/>
<text transform="translate(669.4,964.1) scale(0.86,1)" font-size="11.4" text-anchor="middle" fill="#222">2.0</text>
<clipPath id="cf"><rect x="441" y="0" width="300" height="988"/></clipPath>
<text transform="translate(542.6,743.98) scale(0.935,1)" font-size="10.7" text-anchor="end" fill="#111">2-Hydroxybutyric acid</text>
<text transform="translate(542.6,758.58) scale(0.935,1)" font-size="10.7" text-anchor="end" fill="#111">Palmitoleic acid</text>
<text transform="translate(542.6,773.18) scale(0.935,1)" font-size="10.7" text-anchor="end" fill="#111">Aspartic Acid</text>
<text transform="translate(542.6,787.78) scale(0.935,1)" font-size="10.7" text-anchor="end" fill="#111">Ornithine</text>
<text transform="translate(542.6,802.38) scale(0.935,1)" font-size="10.7" text-anchor="end" fill="#111">1,5 Anhydroglucitol</text>
<g clip-path="url(#cf)"><text transform="translate(542.6,816.98) scale(0.935,1)" font-size="10.7" text-anchor="end" fill="#111">Leucine and Isoleucine</text></g>
<text transform="translate(542.6,831.58) scale(0.935,1)" font-size="10.7" text-anchor="end" fill="#111">Stearic acid</text>
<text transform="translate(542.6,846.18) scale(0.935,1)" font-size="10.7" text-anchor="end" fill="#111">Pyroglutamic acid</text>
<text transform="translate(542.6,860.78) scale(0.935,1)" font-size="10.7" text-anchor="end" fill="#111">Palmitic acid</text>
<text transform="translate(542.6,875.38) scale(0.935,1)" font-size="10.7" text-anchor="end" fill="#111">Proline</text>
<text transform="translate(542.6,889.98) scale(0.935,1)" font-size="10.7" text-anchor="end" fill="#111">Valine</text>
<text transform="translate(542.6,904.58) scale(0.935,1)" font-size="10.7" text-anchor="end" fill="#111">Methionine</text>
<text transform="translate(542.6,919.18) scale(0.935,1)" font-size="10.7" text-anchor="end" fill="#111">Linoleic acid</text>
<text transform="translate(542.6,933.78) scale(0.935,1)" font-size="10.7" text-anchor="end" fill="#111">Petroselinic acid</text>
<text transform="translate(542.6,948.38) scale(0.935,1)" font-size="10.7" text-anchor="end" fill="#111">Lysine</text>
<line x1="543.1" y1="740.40" x2="545.7" y2="740.40" stroke="#333" stroke-width="0.9"/>
<line x1="543.1" y1="755.00" x2="545.7" y2="755.00" stroke="#333" stroke-width="0.9"/>
<line x1="543.1" y1="769.60" x2="545.7" y2="769.60" stroke="#333" stroke-width="0.9"/>
<line x1="543.1" y1="784.20" x2="545.7" y2="784.20" stroke="#333" stroke-width="0.9"/>
<line x1="543.1" y1="798.80" x2="545.7" y2="798.80" stroke="#333" stroke-width="0.9"/>
<line x1="543.1" y1="813.40" x2="545.7" y2="813.40" stroke="#333" stroke-width="0.9"/>
<line x1="543.1" y1="828.00" x2="545.7" y2="828.00" stroke="#333" stroke-width="0.9"/>
<line x1="543.1" y1="842.60" x2="545.7" y2="842.60" stroke="#333" stroke-width="0.9"/>
<line x1="543.1" y1="857.20" x2="545.7" y2="857.20" stroke="#333" stroke-width="0.9"/>
<line x1="543.1" y1="871.80" x2="545.7" y2="871.80" stroke="#333" stroke-width="0.9"/>
<line x1="543.1" y1="886.40" x2="545.7" y2="886.40" stroke="#333" stroke-width="0.9"/>
<line x1="543.1" y1="901.00" x2="545.7" y2="901.00" stroke="#333" stroke-width="0.9"/>
<line x1="543.1" y1="915.60" x2="545.7" y2="915.60" stroke="#333" stroke-width="0.9"/>
<line x1="543.1" y1="930.20" x2="545.7" y2="930.20" stroke="#333" stroke-width="0.9"/>
<line x1="543.1" y1="944.80" x2="545.7" y2="944.80" stroke="#333" stroke-width="0.9"/>
<circle cx="648.9" cy="740.40" r="2.95" fill="#000"/>
<circle cx="640.9" cy="755.00" r="2.95" fill="#000"/>
<circle cx="639.9" cy="769.60" r="2.95" fill="#000"/>
<circle cx="633.5" cy="784.20" r="2.95" fill="#000"/>
<circle cx="632.7" cy="798.80" r="2.95" fill="#000"/>
<circle cx="631.6" cy="813.40" r="2.95" fill="#000"/>
<circle cx="627.9" cy="828.00" r="2.95" fill="#000"/>
<circle cx="620.7" cy="842.60" r="2.95" fill="#000"/>
<circle cx="620.2" cy="857.20" r="2.95" fill="#000"/>
<circle cx="618.1" cy="871.80" r="2.95" fill="#000"/>
<circle cx="614.9" cy="886.40" r="2.95" fill="#000"/>
<circle cx="613.5" cy="901.00" r="2.95" fill="#000"/>
<circle cx="610.6" cy="915.60" r="2.95" fill="#000"/>
<circle cx="609.5" cy="930.20" r="2.95" fill="#000"/>
<circle cx="609.3" cy="944.80" r="2.95" fill="#000"/>
<text x="607.5" y="983.2" font-size="14.6" text-anchor="middle" >VIP score</text>
<text transform="translate(438,855) rotate(-90)" font-size="16.4" text-anchor="middle">Metabolites</text>
<text x="602.6" y="699" font-size="17.6" text-anchor="middle" >VIP plot</text>
<text x="602.3" y="716.7" font-size="17.6" text-anchor="middle" >(MHO vs MUO)</text>
</svg></body></html>
